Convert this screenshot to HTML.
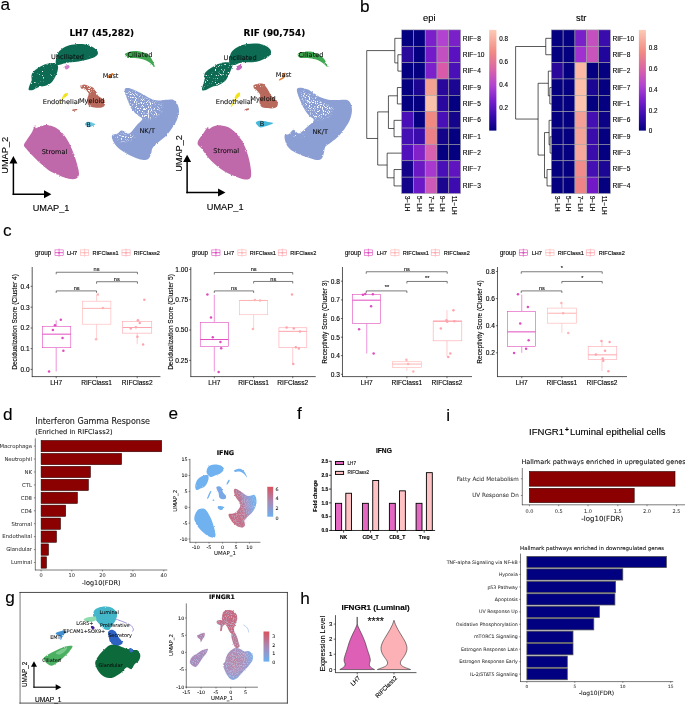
<!DOCTYPE html>
<html lang="en"><head><meta charset="utf-8"><title>Figure</title>
<style>
html,body{margin:0;padding:0;background:#fff;}
svg{display:block;}
text{stroke:#000;stroke-width:0.12px;}
text.d{stroke-width:0.07px;}
text.d[font-weight=bold]{stroke-width:0.12px;}
.l{font-family:"Liberation Sans",Arial,sans-serif;}
.d{font-family:"DejaVu Sans","Liberation Sans",sans-serif;}
</style></head><body>
<svg width="685" height="705" viewBox="0 0 685 705">
<defs>
<filter id="rg" x="-5%" y="-5%" width="110%" height="110%"><feTurbulence type="fractalNoise" baseFrequency="0.9" numOctaves="2" seed="3" result="n"/><feDisplacementMap in="SourceGraphic" in2="n" scale="2.2" xChannelSelector="R" yChannelSelector="G"/></filter>
<filter id="rg2" x="-5%" y="-5%" width="110%" height="110%"><feTurbulence type="fractalNoise" baseFrequency="0.9" numOctaves="2" seed="7" result="n"/><feDisplacementMap in="SourceGraphic" in2="n" scale="2.0" xChannelSelector="R" yChannelSelector="G"/></filter>
<filter id="sp" x="-10%" y="-10%" width="120%" height="120%"><feGaussianBlur in="SourceAlpha" stdDeviation="1.6" result="a"/><feTurbulence type="fractalNoise" baseFrequency="0.85" numOctaves="2" seed="5" result="n"/><feColorMatrix in="n" type="matrix" values="0 0 0 0 1  0 0 0 0 1  0 0 0 0 1  0 0 0 9 -4.9" result="dots"/><feComposite in="dots" in2="a" operator="in"/></filter>
<filter id="sp3" x="-10%" y="-10%" width="120%" height="120%"><feGaussianBlur in="SourceAlpha" stdDeviation="1.2" result="a"/><feTurbulence type="fractalNoise" baseFrequency="0.9" numOctaves="2" seed="17" result="n"/><feColorMatrix in="n" type="matrix" values="0 0 0 0 1  0 0 0 0 1  0 0 0 0 1  0 0 0 9 -6.1" result="dots"/><feComposite in="dots" in2="a" operator="in"/></filter>
<filter id="sp2" x="-10%" y="-10%" width="120%" height="120%"><feGaussianBlur in="SourceAlpha" stdDeviation="1.2" result="a"/><feTurbulence type="fractalNoise" baseFrequency="0.9" numOctaves="2" seed="11" result="n"/><feColorMatrix in="n" type="matrix" values="0 0 0 0 1  0 0 0 0 1  0 0 0 0 1  0 0 0 9 -5.75" result="dots"/><feComposite in="dots" in2="a" operator="in"/></filter>
<filter id="spb" x="-10%" y="-10%" width="120%" height="120%"><feGaussianBlur in="SourceAlpha" stdDeviation="0.8" result="a"/><feTurbulence type="fractalNoise" baseFrequency="0.9" numOctaves="2" seed="21" result="n"/><feColorMatrix in="n" type="matrix" values="0 0 0 0 0.45  0 0 0 0 0.69  0 0 0 0 0.94  0 0 0 4 -1.9" result="dots"/><feComposite in="dots" in2="a" operator="in"/></filter>
<filter id="spr" x="-10%" y="-10%" width="120%" height="120%"><feGaussianBlur in="SourceAlpha" stdDeviation="0.8" result="a"/><feTurbulence type="fractalNoise" baseFrequency="0.9" numOctaves="2" seed="33" result="n"/><feColorMatrix in="n" type="matrix" values="0 0 0 0 0.80  0 0 0 0 0.38  0 0 0 0 0.46  0 0 0 4 -2.0" result="dots"/><feComposite in="dots" in2="a" operator="in"/></filter>
<linearGradient id="hm" x1="0" y1="0" x2="0" y2="1">
<stop offset="0" stop-color="#fdcab5"/><stop offset="0.22" stop-color="#f08a82"/><stop offset="0.40" stop-color="#d862aa"/><stop offset="0.55" stop-color="#b244d2"/><stop offset="0.70" stop-color="#7a1fcc"/><stop offset="0.85" stop-color="#3a0cae"/><stop offset="1" stop-color="#020080"/>
</linearGradient>
<linearGradient id="fb" x1="0" y1="0" x2="0" y2="1"><stop offset="0" stop-color="#d9525c"/><stop offset="0.5" stop-color="#a889b4"/><stop offset="1" stop-color="#6cb0f2"/></linearGradient>
<linearGradient id="nk" x1="0.05" y1="0.62" x2="1" y2="0.32"><stop offset="0" stop-color="#c8667c"/><stop offset="0.42" stop-color="#c0708a"/><stop offset="0.68" stop-color="#9a98cc"/><stop offset="0.9" stop-color="#78aeea"/><stop offset="1" stop-color="#6fb1f0"/></linearGradient>
<radialGradient id="gl" cx="0.35" cy="0.4" r="0.7"><stop offset="0" stop-color="#b9819f"/><stop offset="0.55" stop-color="#a791c0"/><stop offset="0.85" stop-color="#86a6e0"/><stop offset="1" stop-color="#6fb0f0"/></radialGradient>
</defs>
<rect width="685" height="705" fill="#fff"/>

<text class="l" x="0.60" y="9.80" font-size="17.2" style="stroke-width:0.1px">a</text>
<text class="l" x="360.00" y="12.00" font-size="17.2" style="stroke-width:0.1px">b</text>
<text class="l" x="2.90" y="235.60" font-size="17.2" style="stroke-width:0.1px">c</text>
<text class="l" x="3.00" y="420.00" font-size="17.2" style="stroke-width:0.1px">d</text>
<text class="l" x="168.40" y="419.20" font-size="17.2" style="stroke-width:0.1px">e</text>
<text class="l" x="296.90" y="419.20" font-size="17.2" style="stroke-width:0.1px">f</text>
<text class="l" x="5.30" y="602.90" font-size="17.2" style="stroke-width:0.1px">g</text>
<text class="l" x="300.20" y="604.00" font-size="17.2" style="stroke-width:0.1px">h</text>
<text class="l" x="446.20" y="420.70" font-size="17.2" style="stroke-width:0.1px">i</text>
<g filter="url(#rg)">
<path d="M55.8,63.6 C55.4,62.3 55.9,59.0 56.5,56.9 C57.1,54.8 58.0,52.8 59.4,51.1 C60.9,49.4 62.8,47.8 65.3,46.7 C67.7,45.6 70.9,44.9 74.0,44.5 C77.2,44.1 81.1,43.9 84.2,44.3 C87.4,44.8 90.8,46.1 93.0,47.3 C95.2,48.4 96.6,49.8 97.4,51.1 C98.1,52.3 98.2,53.6 97.5,54.7 C96.8,55.8 95.0,56.9 93.0,57.8 C91.0,58.6 88.1,59.4 85.7,60.0 C83.3,60.6 80.8,61.1 78.4,61.4 C76.0,61.8 73.5,61.8 71.1,62.2 C68.7,62.5 65.9,63.1 63.8,63.6 C61.7,64.1 60.0,65.1 58.7,65.1 C57.3,65.1 56.1,65.0 55.8,63.6Z" fill="#0d6b52"/>
<path d="M28.8,89.9 C28.2,89.1 29.0,87.0 29.5,85.4 C30.0,83.8 31.3,82.1 31.7,80.3 C32.0,78.4 30.9,76.2 31.7,74.4 C32.4,72.6 34.1,70.9 36.1,69.3 C38.0,67.7 40.9,65.9 43.4,64.9 C45.8,63.9 48.6,63.6 50.7,63.3 C52.7,63.1 54.7,62.8 55.9,63.3 C57.2,63.8 57.9,65.0 58.1,66.4 C58.3,67.7 57.9,69.7 57.4,71.5 C56.9,73.3 56.0,75.5 55.0,77.3 C54.0,79.2 52.8,81.2 51.4,82.6 C49.9,84.0 48.3,84.8 46.3,85.5 C44.2,86.2 41.2,86.2 39.0,87.0 C36.8,87.7 34.8,89.4 33.1,89.9 C31.4,90.4 29.4,90.6 28.8,89.9Z" fill="#0d6b52"/>
<path d="M64.5,66.4 C64.8,65.6 67.3,64.8 68.2,64.9 C69.0,65.0 69.9,66.4 69.6,67.1 C69.3,67.9 67.3,69.6 66.4,69.5 C65.6,69.3 64.2,67.1 64.5,66.4Z" fill="#cf7fcc"/>
<path d="M80.6,86.1 C81.1,85.5 82.9,84.6 84.2,84.6 C85.6,84.6 87.2,85.6 88.6,86.1 C90.1,86.6 91.8,86.6 93.0,87.6 C94.2,88.5 94.9,90.5 95.9,91.9 C96.9,93.4 97.5,95.0 98.8,96.3 C100.2,97.7 102.9,98.5 103.9,100.0 C104.9,101.4 105.2,103.8 104.8,105.1 C104.5,106.3 103.5,107.0 101.8,107.4 C100.0,107.8 96.6,107.8 94.5,107.4 C92.3,107.0 89.8,106.6 88.6,105.2 C87.4,103.9 87.2,101.2 87.2,99.2 C87.2,97.3 89.1,95.0 88.6,93.4 C88.1,91.7 85.5,90.1 84.2,89.3 C83.0,88.5 81.9,89.0 81.3,88.4 C80.7,87.9 80.1,86.7 80.6,86.1Z" fill="#b9695c"/>
<path d="M72.3,109.7 C72.8,109.4 75.8,108.8 76.6,108.9 C77.5,108.9 77.8,109.7 77.2,110.0 C76.6,110.4 74.0,111.0 73.1,110.9 C72.3,110.9 71.7,110.1 72.3,109.7Z" fill="#b9695c"/>
<path d="M63.5,94.9 C64.5,93.5 66.3,92.5 67.0,92.5 C67.7,92.5 68.2,93.9 67.7,94.9 C67.3,95.8 65.3,96.7 64.1,98.1 C62.8,99.4 61.2,102.0 60.3,103.0 C59.4,104.1 58.4,104.9 58.5,104.5 C58.6,104.1 60.0,102.3 60.9,100.7 C61.7,99.1 62.5,96.2 63.5,94.9Z" fill="#f2e31f"/>
<path d="M107.6,77.3 C107.7,76.6 110.7,73.8 111.7,73.2 C112.7,72.7 113.6,73.4 113.4,74.1 C113.3,74.9 111.8,77.1 110.8,77.6 C109.8,78.2 107.4,78.1 107.6,77.3Z" fill="#e8833a"/>
<path d="M124.8,88.9 C125.3,87.9 126.8,87.9 128.5,88.1 C130.2,88.4 132.7,89.4 135.0,90.3 C137.3,91.3 139.8,92.6 142.3,94.0 C144.9,95.3 147.7,97.3 150.4,98.4 C153.0,99.5 155.8,100.3 158.4,100.5 C160.9,100.8 163.3,99.9 165.7,99.8 C168.1,99.7 171.0,99.1 173.0,99.8 C174.9,100.5 176.4,102.3 177.4,104.2 C178.4,106.1 179.1,108.8 179.0,111.5 C178.9,114.2 178.0,117.3 176.8,120.3 C175.5,123.2 173.4,126.3 171.5,129.0 C169.7,131.7 167.9,134.1 165.7,136.3 C163.5,138.5 160.6,140.2 158.4,142.2 C156.2,144.1 153.8,146.0 152.6,148.0 C151.3,149.9 151.8,152.0 151.1,153.8 C150.4,155.7 149.6,158.1 148.2,159.1 C146.7,160.1 144.8,160.2 142.3,159.8 C139.9,159.5 136.5,158.1 133.6,156.9 C130.7,155.7 127.6,154.2 124.8,152.5 C122.0,150.8 118.9,148.7 116.8,146.5 C114.7,144.3 113.1,141.2 112.4,139.2 C111.7,137.3 111.6,135.8 112.4,134.9 C113.3,133.9 115.9,134.1 117.5,133.4 C119.1,132.7 120.0,130.5 121.9,130.5 C123.8,130.5 126.8,134.2 129.2,133.4 C131.6,132.5 134.3,127.8 136.5,125.4 C138.7,122.9 142.3,120.6 142.3,118.8 C142.3,117.0 138.3,116.1 136.5,114.4 C134.7,112.7 132.8,110.9 131.4,108.6 C129.9,106.3 128.7,103.0 127.7,100.5 C126.8,98.1 126.0,95.9 125.5,94.0 C125.1,92.0 124.3,89.8 124.8,88.9Z" fill="#8b9fd4"/>
<path d="M124.9,54.2 C125.2,53.2 127.1,52.4 129.0,51.9 C131.0,51.4 134.0,50.9 136.7,51.1 C139.4,51.3 142.7,51.9 145.1,53.1 C147.5,54.3 149.6,55.9 151.2,58.2 C152.9,60.5 154.9,66.1 154.8,66.9 C154.7,67.8 152.6,64.6 150.7,63.4 C148.9,62.1 146.2,60.4 143.6,59.5 C140.9,58.6 137.6,58.3 134.9,58.0 C132.2,57.7 128.9,58.4 127.2,57.7 C125.6,57.1 124.6,55.1 124.9,54.2Z" fill="#3fa851"/>
<path d="M35.0,125.3 C35.7,124.7 34.9,128.1 35.9,128.2 C36.9,128.4 38.8,126.6 40.9,126.1 C42.9,125.5 45.7,124.9 48.2,125.2 C50.6,125.4 53.0,126.2 55.5,127.5 C57.9,128.9 60.6,130.9 62.8,133.4 C65.0,135.8 66.8,138.7 68.6,142.1 C70.4,145.5 72.3,149.9 73.7,153.8 C75.2,157.7 76.5,162.1 77.4,165.5 C78.2,168.9 79.2,172.0 79.0,174.2 C78.7,176.4 77.6,178.0 75.9,178.8 C74.2,179.5 71.5,179.4 68.6,178.8 C65.7,178.2 61.8,176.6 58.4,175.1 C55.0,173.6 51.3,171.9 48.2,169.9 C45.0,167.8 42.1,165.0 39.4,162.6 C36.7,160.1 34.3,157.6 32.1,155.3 C29.9,152.9 27.6,150.4 26.3,148.7 C24.9,147.0 23.7,146.7 23.9,145.0 C24.2,143.3 26.4,140.7 27.7,138.5 C29.1,136.3 30.9,134.1 32.1,131.9 C33.3,129.7 34.4,125.9 35.0,125.3Z" fill="#c069aa"/>
<path d="M85.0,123.4 C85.3,122.7 86.5,121.9 87.6,121.7 C88.7,121.5 90.1,121.8 91.4,122.3 C92.7,122.7 94.9,123.7 95.2,124.3 C95.4,124.9 94.0,125.6 92.8,126.1 C91.7,126.5 89.6,127.3 88.5,127.2 C87.3,127.2 86.4,126.4 85.8,125.8 C85.3,125.1 84.7,124.1 85.0,123.4Z" fill="#6cc8e2"/>
<path d="M229.4,62.9 C228.7,61.5 229.2,58.9 229.7,56.9 C230.2,54.9 230.9,52.8 232.3,51.1 C233.7,49.4 235.7,47.8 238.2,46.7 C240.6,45.5 243.8,44.6 246.9,44.1 C250.1,43.5 254.0,43.3 257.2,43.6 C260.3,43.9 263.7,45.0 265.9,45.9 C268.1,46.9 269.5,48.3 270.3,49.6 C271.1,50.9 271.3,52.6 270.7,54.0 C270.1,55.3 268.4,56.7 266.6,57.8 C264.9,58.9 262.4,60.0 260.1,60.7 C257.8,61.4 255.2,61.9 252.8,62.2 C250.3,62.4 247.7,62.0 245.5,62.2 C243.3,62.3 241.6,62.4 239.6,62.9 C237.7,63.4 235.5,65.1 233.8,65.1 C232.1,65.1 230.1,64.2 229.4,62.9Z" fill="#0d6b52"/>
<path d="M202.0,89.9 C201.5,89.0 202.7,86.5 203.1,84.6 C203.6,82.8 204.4,80.6 204.6,78.8 C204.8,77.0 203.9,75.3 204.6,73.7 C205.3,72.1 207.0,70.8 209.0,69.3 C210.9,67.8 213.8,66.0 216.3,64.9 C218.7,63.8 221.4,63.0 223.6,62.6 C225.8,62.2 227.9,62.2 229.4,62.6 C230.9,63.0 232.2,63.7 232.5,64.9 C232.7,66.2 231.6,68.2 230.9,70.0 C230.2,71.9 229.2,74.0 228.2,75.9 C227.3,77.7 226.5,79.6 225.0,81.1 C223.5,82.6 221.4,83.8 219.2,84.8 C217.0,85.8 214.1,86.1 211.9,87.0 C209.7,87.8 207.7,89.4 206.1,89.9 C204.4,90.4 202.5,90.8 202.0,89.9Z" fill="#0d6b52"/>
<path d="M236.4,66.5 C237.2,65.6 241.4,64.4 242.3,64.8 C243.1,65.1 242.2,67.7 241.4,68.6 C240.6,69.5 238.4,70.7 237.6,70.3 C236.8,70.0 235.6,67.5 236.4,66.5Z" fill="#c468c0"/>
<path d="M253.5,85.4 C254.0,84.6 255.6,84.2 257.2,83.9 C258.7,83.6 261.5,83.3 263.0,83.8 C264.5,84.2 264.9,85.6 265.9,86.8 C266.9,88.1 267.9,89.6 268.8,91.2 C269.8,92.8 270.4,94.7 271.8,96.3 C273.1,97.9 275.9,99.2 276.9,100.7 C277.9,102.2 278.1,103.8 277.7,105.1 C277.4,106.3 276.4,107.6 274.7,108.1 C272.9,108.6 269.6,108.4 267.4,108.1 C265.2,107.9 262.9,107.8 261.5,106.7 C260.2,105.6 259.6,103.4 259.3,101.4 C259.1,99.5 260.6,96.8 260.1,94.9 C259.6,92.9 257.4,91.0 256.4,89.9 C255.5,88.8 254.7,89.2 254.2,88.4 C253.7,87.7 253.0,86.1 253.5,85.4Z" fill="#b9695c"/>
<path d="M244.6,109.7 C245.0,109.3 247.4,108.3 248.1,108.3 C248.8,108.2 249.4,109.0 249.0,109.5 C248.5,109.9 246.2,110.9 245.5,110.9 C244.7,111.0 244.2,110.2 244.6,109.7Z" fill="#b9695c"/>
<path d="M236.4,94.3 C237.5,92.8 239.1,92.3 239.6,92.5 C240.2,92.8 240.5,94.6 239.9,95.7 C239.3,96.9 237.3,97.9 236.1,99.5 C234.9,101.1 233.5,104.1 232.6,105.4 C231.7,106.6 230.7,107.5 230.7,106.8 C230.8,106.2 232.1,103.5 233.1,101.4 C234.0,99.3 235.3,95.8 236.4,94.3Z" fill="#f2e31f"/>
<path d="M282.3,73.8 C282.8,73.2 285.4,72.3 285.8,73.0 C286.2,73.6 285.6,76.4 284.6,77.6 C283.6,78.9 280.9,80.3 279.9,80.5 C279.0,80.8 278.6,80.0 279.1,79.4 C279.5,78.8 282.0,78.0 282.6,77.0 C283.1,76.1 281.7,74.5 282.3,73.8Z" fill="#e8833a"/>
<path d="M297.0,88.9 C297.6,87.8 299.6,87.7 301.4,87.8 C303.2,88.0 305.9,88.7 308.0,89.6 C310.0,90.5 311.6,91.9 313.8,93.2 C316.0,94.6 318.7,96.5 321.1,97.6 C323.5,98.7 326.0,99.4 328.4,99.8 C330.8,100.2 333.3,100.1 335.7,100.1 C338.1,100.1 340.9,99.7 343.0,99.8 C345.1,99.9 346.7,99.7 348.1,100.5 C349.5,101.4 350.5,103.1 351.2,104.9 C351.8,106.8 352.1,108.9 351.9,111.5 C351.7,114.1 350.9,117.3 349.7,120.3 C348.5,123.2 346.3,126.3 344.5,129.0 C342.6,131.7 340.8,134.1 338.6,136.3 C336.4,138.5 333.5,140.5 331.3,142.2 C329.1,143.9 326.7,144.8 325.5,146.5 C324.3,148.2 324.6,150.4 324.0,152.4 C323.4,154.3 323.0,157.1 321.8,158.4 C320.6,159.6 319.0,160.2 316.7,160.1 C314.4,160.0 311.0,158.6 308.0,157.6 C304.9,156.6 301.4,155.3 298.5,154.0 C295.5,152.6 292.5,151.2 290.4,149.5 C288.4,147.7 287.0,145.9 286.1,143.6 C285.1,141.3 284.1,137.2 284.6,135.6 C285.1,134.0 287.5,135.1 289.0,134.1 C290.4,133.2 291.7,129.9 293.4,129.7 C295.1,129.6 297.0,133.8 299.2,133.4 C301.4,133.0 304.1,129.7 306.5,127.6 C308.9,125.4 313.6,122.4 313.8,120.3 C314.0,118.1 309.7,116.5 308.0,114.4 C306.3,112.3 304.9,110.3 303.6,107.8 C302.2,105.4 300.9,102.1 299.9,99.8 C299.0,97.5 298.2,95.8 297.7,94.0 C297.3,92.2 296.4,89.9 297.0,88.9Z" fill="#8b9fd4"/>
<path d="M297.7,54.2 C298.1,53.2 299.8,52.5 301.8,52.1 C303.9,51.7 307.3,51.3 310.0,51.6 C312.7,51.9 315.8,52.9 318.2,54.2 C320.6,55.4 322.7,57.1 324.3,59.3 C325.9,61.4 327.8,66.3 327.6,66.9 C327.5,67.6 325.2,64.6 323.3,63.4 C321.4,62.1 318.8,60.4 316.1,59.5 C313.5,58.6 310.2,58.3 307.4,58.0 C304.7,57.7 301.4,58.4 299.8,57.7 C298.2,57.1 297.4,55.1 297.7,54.2Z" fill="#3fa851"/>
<path d="M207.8,126.9 C208.7,126.1 207.9,129.0 208.8,128.9 C209.8,128.8 211.6,126.9 213.4,126.4 C215.3,125.8 217.1,124.9 220.1,125.3 C223.1,125.8 227.7,126.4 231.3,128.9 C234.9,131.4 238.7,135.6 241.5,140.1 C244.3,144.7 246.6,150.4 248.2,156.0 C249.8,161.6 251.3,170.0 251.2,173.9 C251.2,177.8 250.0,178.9 247.7,179.5 C245.4,180.0 241.4,178.6 237.4,177.2 C233.5,175.8 228.5,174.0 224.2,171.3 C219.8,168.6 215.1,164.8 211.4,161.1 C207.6,157.3 204.0,151.9 201.7,148.8 C199.4,145.8 197.3,145.3 197.6,142.7 C197.8,140.1 201.5,136.1 203.2,133.5 C204.9,130.9 206.9,127.6 207.8,126.9Z" fill="#c069aa"/>
<path d="M255.8,122.3 C256.4,121.4 258.6,120.7 260.9,120.7 C263.3,120.7 268.1,121.8 270.1,122.3 C272.2,122.7 273.7,122.7 273.2,123.3 C272.7,123.9 269.1,125.2 267.1,125.8 C265.0,126.5 262.5,127.4 260.9,127.4 C259.4,127.4 258.7,126.7 257.9,125.8 C257.0,125.0 255.3,123.1 255.8,122.3Z" fill="#45b9db"/>
</g>
<path d="M127.0,91.1 C128.1,89.5 133.0,91.8 136.5,93.2 C140.0,94.7 144.0,97.9 148.2,99.8 C152.3,101.8 159.6,102.5 161.3,104.9 C163.0,107.4 160.6,112.1 158.4,114.4 C156.2,116.7 151.1,118.3 148.2,118.8 C145.3,119.3 143.1,118.7 140.9,117.3 C138.7,116.0 136.9,113.2 135.0,110.8 C133.2,108.3 131.3,106.0 129.9,102.7 C128.6,99.5 125.9,92.6 127.0,91.1Z" fill="#fff" filter="url(#sp)"/>
<path d="M116.1,135.6 C117.0,134.4 121.8,133.3 124.8,133.4 C127.9,133.5 133.8,135.1 134.3,136.3 C134.8,137.5 130.3,140.0 127.7,140.7 C125.2,141.4 120.9,141.5 119.0,140.7 C117.0,139.8 115.1,136.8 116.1,135.6Z" fill="#fff" filter="url(#sp)"/>
<path d="M301.4,91.8 C302.7,90.3 308.6,93.6 312.3,95.4 C316.1,97.3 320.6,100.5 324.0,102.7 C327.4,104.9 332.0,106.4 332.8,108.6 C333.5,110.8 331.1,114.2 328.4,115.9 C325.7,117.6 319.9,119.3 316.7,118.8 C313.6,118.3 311.5,115.4 309.4,113.0 C307.3,110.5 305.6,107.7 304.3,104.2 C303.0,100.7 300.0,93.2 301.4,91.8Z" fill="#fff" filter="url(#sp)"/>
<path d="M291.9,133.4 C292.1,132.5 297.0,132.3 299.2,132.7 C301.4,133.0 305.3,134.7 305.0,135.6 C304.8,136.4 299.9,138.1 297.7,137.8 C295.5,137.4 291.7,134.2 291.9,133.4Z" fill="#fff" filter="url(#sp2)"/>
<path d="M30.2,87.6 C29.6,85.5 30.5,79.4 32.4,75.9 C34.4,72.3 37.9,68.3 41.9,66.4 C45.9,64.4 54.1,62.9 56.5,64.2 C58.9,65.5 57.7,71.1 56.5,74.4 C55.3,77.7 52.6,81.6 49.2,83.9 C45.8,86.2 39.2,87.7 36.1,88.3 C32.9,88.9 30.8,89.6 30.2,87.6Z" fill="#fff" filter="url(#sp3)"/>
<path d="M79.9,85.4 C80.1,84.3 83.5,83.4 85.7,83.9 C87.9,84.4 92.3,86.7 93.0,88.3 C93.7,89.9 91.5,93.0 90.1,93.4 C88.6,93.8 85.9,91.8 84.2,90.5 C82.5,89.1 79.6,86.5 79.9,85.4Z" fill="#fff" filter="url(#sp)"/>
<path d="M63.8,58.4 C65.5,57.7 74.0,59.8 78.4,59.5 C82.8,59.3 88.6,56.6 90.1,56.9 C91.5,57.2 90.8,60.2 87.2,61.3 C83.5,62.4 72.1,64.0 68.2,63.5 C64.3,63.0 62.1,59.0 63.8,58.4Z" fill="#fff" filter="url(#sp3)"/>
<path d="M203.1,88.3 C202.5,86.1 203.4,78.8 205.3,75.1 C207.3,71.5 210.7,68.3 214.8,66.4 C219.0,64.4 227.6,62.3 230.1,63.5 C232.7,64.7 231.4,70.4 230.1,73.7 C228.9,77.0 226.4,80.7 222.8,83.2 C219.3,85.6 212.3,87.4 209.0,88.3 C205.7,89.1 203.7,90.5 203.1,88.3Z" fill="#fff" filter="url(#sp2)"/>
<path d="M252.8,85.4 C253.3,84.4 256.9,83.5 258.6,83.9 C260.3,84.3 262.7,86.2 263.0,87.6 C263.2,88.9 261.3,91.6 260.1,91.9 C258.9,92.3 256.9,90.8 255.7,89.7 C254.5,88.6 252.3,86.3 252.8,85.4Z" fill="#fff" filter="url(#sp2)"/>
<text class="d" x="67.40" y="56.90" font-size="6.6" text-anchor="middle" fill="#111" stroke="#111" dy="0.35em">Unciliated</text>
<text class="d" x="140.00" y="54.80" font-size="6.6" text-anchor="middle" fill="#111" stroke="#111" dy="0.35em">Ciliated</text>
<text class="d" x="110.60" y="75.60" font-size="6.6" text-anchor="middle" fill="#111" stroke="#111" dy="0.35em">Mast</text>
<text class="d" x="61.20" y="101.50" font-size="6.6" text-anchor="middle" fill="#111" stroke="#111" dy="0.35em">Endothelial</text>
<text class="d" x="91.70" y="101.00" font-size="6.6" text-anchor="middle" fill="#111" stroke="#111" dy="0.35em">Myeloid</text>
<text class="d" x="88.60" y="124.40" font-size="6.6" text-anchor="middle" fill="#111" stroke="#111" dy="0.35em">B</text>
<text class="d" x="147.20" y="130.50" font-size="6.6" text-anchor="middle" fill="#111" stroke="#111" dy="0.35em">NK/T</text>
<text class="d" x="54.50" y="151.90" font-size="6.6" text-anchor="middle" fill="#111" stroke="#111" dy="0.35em">Stromal</text>
<text class="d" x="240.10" y="57.20" font-size="6.6" text-anchor="middle" fill="#111" stroke="#111" dy="0.35em">Unciliated</text>
<text class="d" x="311.00" y="54.20" font-size="6.6" text-anchor="middle" fill="#111" stroke="#111" dy="0.35em">Ciliated</text>
<text class="d" x="283.60" y="74.80" font-size="6.6" text-anchor="middle" fill="#111" stroke="#111" dy="0.35em">Mast</text>
<text class="d" x="234.20" y="101.90" font-size="6.6" text-anchor="middle" fill="#111" stroke="#111" dy="0.35em">Endothelial</text>
<text class="d" x="263.00" y="98.20" font-size="6.6" text-anchor="middle" fill="#111" stroke="#111" dy="0.35em">Myeloid</text>
<text class="d" x="262.00" y="124.00" font-size="6.6" text-anchor="middle" fill="#111" stroke="#111" dy="0.35em">B</text>
<text class="d" x="320.20" y="131.50" font-size="6.6" text-anchor="middle" fill="#111" stroke="#111" dy="0.35em">NK/T</text>
<text class="d" x="226.20" y="150.60" font-size="6.6" text-anchor="middle" fill="#111" stroke="#111" dy="0.35em">Stromal</text>
<text class="d" x="101.80" y="33.00" font-size="8.9" text-anchor="middle" font-weight="bold" dy="0.35em">LH7 (45,282)</text>
<text class="d" x="274.40" y="33.00" font-size="8.9" text-anchor="middle" font-weight="bold" dy="0.35em">RIF (90,754)</text>
<line x1="13.40" y1="195.05" x2="13.40" y2="162.40" stroke="#000" stroke-width="1.5"/>
<line x1="12.65" y1="194.30" x2="45.00" y2="194.30" stroke="#000" stroke-width="1.5"/>
<path d="M9.40,163.40 L13.40,156.00 L17.40,163.40Z"/>
<path d="M44.00,190.30 L51.40,194.30 L44.00,198.30Z"/>
<line x1="187.12" y1="193.27" x2="187.12" y2="161.11" stroke="#000" stroke-width="1.5"/>
<line x1="186.37" y1="192.52" x2="219.04" y2="192.52" stroke="#000" stroke-width="1.5"/>
<path d="M183.12,162.11 L187.12,154.71 L191.12,162.11Z"/>
<path d="M218.04,188.52 L225.44,192.52 L218.04,196.52Z"/>
<text class="l" x="4.90" y="155.30" font-size="9.2" text-anchor="middle" transform="rotate(-90 4.90 155.30)" dy="0.35em">UMAP_2</text>
<text class="l" x="178.94" y="153.43" font-size="9.2" text-anchor="middle" transform="rotate(-90 178.94 153.43)" dy="0.35em">UMAP_2</text>
<text class="l" x="51.09" y="207.85" font-size="9.2" text-anchor="middle" dy="0.35em">UMAP_1</text>
<text class="l" x="225.18" y="206.57" font-size="9.2" text-anchor="middle" dy="0.35em">UMAP_1</text>
<rect x="401.60" y="29.90" width="11.80" height="16.36" fill="#050080" stroke="#a3a3a3" stroke-width="0.55"/>
<rect x="413.40" y="29.90" width="11.80" height="16.36" fill="#050080" stroke="#a3a3a3" stroke-width="0.55"/>
<rect x="425.20" y="29.90" width="11.80" height="16.36" fill="#7a1fca" stroke="#a3a3a3" stroke-width="0.55"/>
<rect x="437.00" y="29.90" width="11.80" height="16.36" fill="#b243d0" stroke="#a3a3a3" stroke-width="0.55"/>
<rect x="448.80" y="29.90" width="11.80" height="16.36" fill="#7a20c8" stroke="#a3a3a3" stroke-width="0.55"/>
<text class="l" x="462.70" y="38.28" font-size="6.6" dy="0.35em">RIF−8</text>
<rect x="401.60" y="46.26" width="11.80" height="16.36" fill="#2a0a9a" stroke="#a3a3a3" stroke-width="0.55"/>
<rect x="413.40" y="46.26" width="11.80" height="16.36" fill="#050080" stroke="#a3a3a3" stroke-width="0.55"/>
<rect x="425.20" y="46.26" width="11.80" height="16.36" fill="#741aca" stroke="#a3a3a3" stroke-width="0.55"/>
<rect x="437.00" y="46.26" width="11.80" height="16.36" fill="#c250c0" stroke="#a3a3a3" stroke-width="0.55"/>
<rect x="448.80" y="46.26" width="11.80" height="16.36" fill="#5a12c0" stroke="#a3a3a3" stroke-width="0.55"/>
<text class="l" x="462.70" y="54.64" font-size="6.6" dy="0.35em">RIF−10</text>
<rect x="401.60" y="62.62" width="11.80" height="16.36" fill="#050080" stroke="#a3a3a3" stroke-width="0.55"/>
<rect x="413.40" y="62.62" width="11.80" height="16.36" fill="#050080" stroke="#a3a3a3" stroke-width="0.55"/>
<rect x="425.20" y="62.62" width="11.80" height="16.36" fill="#7c20cc" stroke="#a3a3a3" stroke-width="0.55"/>
<rect x="437.00" y="62.62" width="11.80" height="16.36" fill="#d95aa8" stroke="#a3a3a3" stroke-width="0.55"/>
<rect x="448.80" y="62.62" width="11.80" height="16.36" fill="#4a10b8" stroke="#a3a3a3" stroke-width="0.55"/>
<text class="l" x="462.70" y="71.00" font-size="6.6" dy="0.35em">RIF−4</text>
<rect x="401.60" y="78.98" width="11.80" height="16.36" fill="#050080" stroke="#a3a3a3" stroke-width="0.55"/>
<rect x="413.40" y="78.98" width="11.80" height="16.36" fill="#1c0692" stroke="#a3a3a3" stroke-width="0.55"/>
<rect x="425.20" y="78.98" width="11.80" height="16.36" fill="#f5a192" stroke="#a3a3a3" stroke-width="0.55"/>
<rect x="437.00" y="78.98" width="11.80" height="16.36" fill="#2a089c" stroke="#a3a3a3" stroke-width="0.55"/>
<rect x="448.80" y="78.98" width="11.80" height="16.36" fill="#1a0690" stroke="#a3a3a3" stroke-width="0.55"/>
<text class="l" x="462.70" y="87.36" font-size="6.6" dy="0.35em">RIF−9</text>
<rect x="401.60" y="95.34" width="11.80" height="16.36" fill="#050080" stroke="#a3a3a3" stroke-width="0.55"/>
<rect x="413.40" y="95.34" width="11.80" height="16.36" fill="#050080" stroke="#a3a3a3" stroke-width="0.55"/>
<rect x="425.20" y="95.34" width="11.80" height="16.36" fill="#fcc1aa" stroke="#a3a3a3" stroke-width="0.55"/>
<rect x="437.00" y="95.34" width="11.80" height="16.36" fill="#2a08a0" stroke="#a3a3a3" stroke-width="0.55"/>
<rect x="448.80" y="95.34" width="11.80" height="16.36" fill="#050080" stroke="#a3a3a3" stroke-width="0.55"/>
<text class="l" x="462.70" y="103.72" font-size="6.6" dy="0.35em">RIF−5</text>
<rect x="401.60" y="111.70" width="11.80" height="16.36" fill="#4a10b8" stroke="#a3a3a3" stroke-width="0.55"/>
<rect x="413.40" y="111.70" width="11.80" height="16.36" fill="#050080" stroke="#a3a3a3" stroke-width="0.55"/>
<rect x="425.20" y="111.70" width="11.80" height="16.36" fill="#f08982" stroke="#a3a3a3" stroke-width="0.55"/>
<rect x="437.00" y="111.70" width="11.80" height="16.36" fill="#4a10b8" stroke="#a3a3a3" stroke-width="0.55"/>
<rect x="448.80" y="111.70" width="11.80" height="16.36" fill="#14048a" stroke="#a3a3a3" stroke-width="0.55"/>
<text class="l" x="462.70" y="120.08" font-size="6.6" dy="0.35em">RIF−6</text>
<rect x="401.60" y="128.06" width="11.80" height="16.36" fill="#4410b4" stroke="#a3a3a3" stroke-width="0.55"/>
<rect x="413.40" y="128.06" width="11.80" height="16.36" fill="#3a0cac" stroke="#a3a3a3" stroke-width="0.55"/>
<rect x="425.20" y="128.06" width="11.80" height="16.36" fill="#ec8088" stroke="#a3a3a3" stroke-width="0.55"/>
<rect x="437.00" y="128.06" width="11.80" height="16.36" fill="#14048a" stroke="#a3a3a3" stroke-width="0.55"/>
<rect x="448.80" y="128.06" width="11.80" height="16.36" fill="#050080" stroke="#a3a3a3" stroke-width="0.55"/>
<text class="l" x="462.70" y="136.44" font-size="6.6" dy="0.35em">RIF−1</text>
<rect x="401.60" y="144.42" width="11.80" height="16.36" fill="#5010bc" stroke="#a3a3a3" stroke-width="0.55"/>
<rect x="413.40" y="144.42" width="11.80" height="16.36" fill="#8222c8" stroke="#a3a3a3" stroke-width="0.55"/>
<rect x="425.20" y="144.42" width="11.80" height="16.36" fill="#d860b0" stroke="#a3a3a3" stroke-width="0.55"/>
<rect x="437.00" y="144.42" width="11.80" height="16.36" fill="#050080" stroke="#a3a3a3" stroke-width="0.55"/>
<rect x="448.80" y="144.42" width="11.80" height="16.36" fill="#050080" stroke="#a3a3a3" stroke-width="0.55"/>
<text class="l" x="462.70" y="152.80" font-size="6.6" dy="0.35em">RIF−2</text>
<rect x="401.60" y="160.78" width="11.80" height="16.36" fill="#14048a" stroke="#a3a3a3" stroke-width="0.55"/>
<rect x="413.40" y="160.78" width="11.80" height="16.36" fill="#6a18c4" stroke="#a3a3a3" stroke-width="0.55"/>
<rect x="425.20" y="160.78" width="11.80" height="16.36" fill="#a838d0" stroke="#a3a3a3" stroke-width="0.55"/>
<rect x="437.00" y="160.78" width="11.80" height="16.36" fill="#4a10b8" stroke="#a3a3a3" stroke-width="0.55"/>
<rect x="448.80" y="160.78" width="11.80" height="16.36" fill="#6014c0" stroke="#a3a3a3" stroke-width="0.55"/>
<text class="l" x="462.70" y="169.16" font-size="6.6" dy="0.35em">RIF−7</text>
<rect x="401.60" y="177.14" width="11.80" height="16.36" fill="#14048a" stroke="#a3a3a3" stroke-width="0.55"/>
<rect x="413.40" y="177.14" width="11.80" height="16.36" fill="#6a18c8" stroke="#a3a3a3" stroke-width="0.55"/>
<rect x="425.20" y="177.14" width="11.80" height="16.36" fill="#cc58b8" stroke="#a3a3a3" stroke-width="0.55"/>
<rect x="437.00" y="177.14" width="11.80" height="16.36" fill="#1c0690" stroke="#a3a3a3" stroke-width="0.55"/>
<rect x="448.80" y="177.14" width="11.80" height="16.36" fill="#3c0cb0" stroke="#a3a3a3" stroke-width="0.55"/>
<text class="l" x="462.70" y="185.52" font-size="6.6" dy="0.35em">RIF−3</text>
<text class="l" x="407.20" y="195.70" font-size="6.6" transform="rotate(90 407.20 195.70)" dy="0.35em">3−LH</text>
<text class="l" x="419.00" y="195.70" font-size="6.6" transform="rotate(90 419.00 195.70)" dy="0.35em">5−LH</text>
<text class="l" x="430.80" y="195.70" font-size="6.6" transform="rotate(90 430.80 195.70)" dy="0.35em">7−LH</text>
<text class="l" x="442.60" y="195.70" font-size="6.6" transform="rotate(90 442.60 195.70)" dy="0.35em">9−LH</text>
<text class="l" x="454.40" y="195.70" font-size="6.6" transform="rotate(90 454.40 195.70)" dy="0.35em">11−LH</text>
<rect x="489.20" y="29.90" width="7.20" height="100.70" fill="url(#hm)" stroke="none" stroke-width="0.5"/>
<text class="l" x="499.20" y="38.40" font-size="6.3" dy="0.35em">0.8</text>
<text class="l" x="499.20" y="61.60" font-size="6.3" dy="0.35em">0.6</text>
<text class="l" x="499.20" y="84.90" font-size="6.3" dy="0.35em">0.4</text>
<text class="l" x="499.20" y="108.10" font-size="6.3" dy="0.35em">0.2</text>
<text class="l" x="429.30" y="17.45" font-size="9.4" text-anchor="middle" dy="0.35em">epi</text>
<path d="M397.88,54.72L397.88,71.12M397.88,54.72L401.72,54.72M397.88,71.12L401.72,71.12M394.82,38.32L394.82,62.92M394.82,38.32L401.72,38.32M394.82,62.92L397.88,62.92M366.72,50.58L394.82,50.58M397.37,87.53L397.37,103.93M397.37,87.53L401.72,87.53M397.37,103.93L401.72,103.93M388.43,95.80L397.37,95.80M394.05,120.33L394.05,136.73M394.05,120.33L401.72,120.33M394.05,136.73L401.72,136.73M388.43,128.50L394.05,128.50M388.43,95.80L388.43,128.50M377.70,111.90L388.43,111.90M394.05,169.53L394.05,185.93M394.05,169.53L401.72,169.53M394.05,185.93L401.72,185.93M387.15,177.81L394.05,177.81M387.15,153.13L387.15,177.81M387.15,153.13L401.72,153.13M377.70,165.04L387.15,165.04M377.70,111.90L377.70,165.04M366.72,138.47L377.70,138.47M366.72,50.58L366.72,138.47" fill="none" stroke="#000" stroke-width="0.65"/>
<rect x="551.30" y="29.90" width="11.82" height="16.36" fill="#050080" stroke="#a3a3a3" stroke-width="0.55"/>
<rect x="563.12" y="29.90" width="11.82" height="16.36" fill="#050080" stroke="#a3a3a3" stroke-width="0.55"/>
<rect x="574.94" y="29.90" width="11.82" height="16.36" fill="#7a20c8" stroke="#a3a3a3" stroke-width="0.55"/>
<rect x="586.76" y="29.90" width="11.82" height="16.36" fill="#c450c0" stroke="#a3a3a3" stroke-width="0.55"/>
<rect x="598.58" y="29.90" width="11.82" height="16.36" fill="#3a0cac" stroke="#a3a3a3" stroke-width="0.55"/>
<text class="l" x="612.40" y="38.28" font-size="6.6" dy="0.35em">RIF−10</text>
<rect x="551.30" y="46.26" width="11.82" height="16.36" fill="#050080" stroke="#a3a3a3" stroke-width="0.55"/>
<rect x="563.12" y="46.26" width="11.82" height="16.36" fill="#050080" stroke="#a3a3a3" stroke-width="0.55"/>
<rect x="574.94" y="46.26" width="11.82" height="16.36" fill="#a030d0" stroke="#a3a3a3" stroke-width="0.55"/>
<rect x="586.76" y="46.26" width="11.82" height="16.36" fill="#c854bc" stroke="#a3a3a3" stroke-width="0.55"/>
<rect x="598.58" y="46.26" width="11.82" height="16.36" fill="#20069a" stroke="#a3a3a3" stroke-width="0.55"/>
<text class="l" x="612.40" y="54.64" font-size="6.6" dy="0.35em">RIF−8</text>
<rect x="551.30" y="62.62" width="11.82" height="16.36" fill="#2a089c" stroke="#a3a3a3" stroke-width="0.55"/>
<rect x="563.12" y="62.62" width="11.82" height="16.36" fill="#050080" stroke="#a3a3a3" stroke-width="0.55"/>
<rect x="574.94" y="62.62" width="11.82" height="16.36" fill="#fbb8a4" stroke="#a3a3a3" stroke-width="0.55"/>
<rect x="586.76" y="62.62" width="11.82" height="16.36" fill="#050080" stroke="#a3a3a3" stroke-width="0.55"/>
<rect x="598.58" y="62.62" width="11.82" height="16.36" fill="#050080" stroke="#a3a3a3" stroke-width="0.55"/>
<text class="l" x="612.40" y="71.00" font-size="6.6" dy="0.35em">RIF−2</text>
<rect x="551.30" y="78.98" width="11.82" height="16.36" fill="#050080" stroke="#a3a3a3" stroke-width="0.55"/>
<rect x="563.12" y="78.98" width="11.82" height="16.36" fill="#050080" stroke="#a3a3a3" stroke-width="0.55"/>
<rect x="574.94" y="78.98" width="11.82" height="16.36" fill="#fcc0aa" stroke="#a3a3a3" stroke-width="0.55"/>
<rect x="586.76" y="78.98" width="11.82" height="16.36" fill="#1c0694" stroke="#a3a3a3" stroke-width="0.55"/>
<rect x="598.58" y="78.98" width="11.82" height="16.36" fill="#050080" stroke="#a3a3a3" stroke-width="0.55"/>
<text class="l" x="612.40" y="87.36" font-size="6.6" dy="0.35em">RIF−7</text>
<rect x="551.30" y="95.34" width="11.82" height="16.36" fill="#050080" stroke="#a3a3a3" stroke-width="0.55"/>
<rect x="563.12" y="95.34" width="11.82" height="16.36" fill="#050080" stroke="#a3a3a3" stroke-width="0.55"/>
<rect x="574.94" y="95.34" width="11.82" height="16.36" fill="#fcc4ae" stroke="#a3a3a3" stroke-width="0.55"/>
<rect x="586.76" y="95.34" width="11.82" height="16.36" fill="#050080" stroke="#a3a3a3" stroke-width="0.55"/>
<rect x="598.58" y="95.34" width="11.82" height="16.36" fill="#050080" stroke="#a3a3a3" stroke-width="0.55"/>
<text class="l" x="612.40" y="103.72" font-size="6.6" dy="0.35em">RIF−1</text>
<rect x="551.30" y="111.70" width="11.82" height="16.36" fill="#050080" stroke="#a3a3a3" stroke-width="0.55"/>
<rect x="563.12" y="111.70" width="11.82" height="16.36" fill="#050080" stroke="#a3a3a3" stroke-width="0.55"/>
<rect x="574.94" y="111.70" width="11.82" height="16.36" fill="#f4a098" stroke="#a3a3a3" stroke-width="0.55"/>
<rect x="586.76" y="111.70" width="11.82" height="16.36" fill="#4410b4" stroke="#a3a3a3" stroke-width="0.55"/>
<rect x="598.58" y="111.70" width="11.82" height="16.36" fill="#0c0286" stroke="#a3a3a3" stroke-width="0.55"/>
<text class="l" x="612.40" y="120.08" font-size="6.6" dy="0.35em">RIF−6</text>
<rect x="551.30" y="128.06" width="11.82" height="16.36" fill="#050080" stroke="#a3a3a3" stroke-width="0.55"/>
<rect x="563.12" y="128.06" width="11.82" height="16.36" fill="#050080" stroke="#a3a3a3" stroke-width="0.55"/>
<rect x="574.94" y="128.06" width="11.82" height="16.36" fill="#f5a49a" stroke="#a3a3a3" stroke-width="0.55"/>
<rect x="586.76" y="128.06" width="11.82" height="16.36" fill="#3a0cac" stroke="#a3a3a3" stroke-width="0.55"/>
<rect x="598.58" y="128.06" width="11.82" height="16.36" fill="#050080" stroke="#a3a3a3" stroke-width="0.55"/>
<text class="l" x="612.40" y="136.44" font-size="6.6" dy="0.35em">RIF−9</text>
<rect x="551.30" y="144.42" width="11.82" height="16.36" fill="#050080" stroke="#a3a3a3" stroke-width="0.55"/>
<rect x="563.12" y="144.42" width="11.82" height="16.36" fill="#050080" stroke="#a3a3a3" stroke-width="0.55"/>
<rect x="574.94" y="144.42" width="11.82" height="16.36" fill="#f6a89c" stroke="#a3a3a3" stroke-width="0.55"/>
<rect x="586.76" y="144.42" width="11.82" height="16.36" fill="#3a0cac" stroke="#a3a3a3" stroke-width="0.55"/>
<rect x="598.58" y="144.42" width="11.82" height="16.36" fill="#050080" stroke="#a3a3a3" stroke-width="0.55"/>
<text class="l" x="612.40" y="152.80" font-size="6.6" dy="0.35em">RIF−3</text>
<rect x="551.30" y="160.78" width="11.82" height="16.36" fill="#050080" stroke="#a3a3a3" stroke-width="0.55"/>
<rect x="563.12" y="160.78" width="11.82" height="16.36" fill="#050080" stroke="#a3a3a3" stroke-width="0.55"/>
<rect x="574.94" y="160.78" width="11.82" height="16.36" fill="#f08c8c" stroke="#a3a3a3" stroke-width="0.55"/>
<rect x="586.76" y="160.78" width="11.82" height="16.36" fill="#4410b4" stroke="#a3a3a3" stroke-width="0.55"/>
<rect x="598.58" y="160.78" width="11.82" height="16.36" fill="#1c0694" stroke="#a3a3a3" stroke-width="0.55"/>
<text class="l" x="612.40" y="169.16" font-size="6.6" dy="0.35em">RIF−5</text>
<rect x="551.30" y="177.14" width="11.82" height="16.36" fill="#050080" stroke="#a3a3a3" stroke-width="0.55"/>
<rect x="563.12" y="177.14" width="11.82" height="16.36" fill="#050080" stroke="#a3a3a3" stroke-width="0.55"/>
<rect x="574.94" y="177.14" width="11.82" height="16.36" fill="#ee8488" stroke="#a3a3a3" stroke-width="0.55"/>
<rect x="586.76" y="177.14" width="11.82" height="16.36" fill="#7218c8" stroke="#a3a3a3" stroke-width="0.55"/>
<rect x="598.58" y="177.14" width="11.82" height="16.36" fill="#050080" stroke="#a3a3a3" stroke-width="0.55"/>
<text class="l" x="612.40" y="185.52" font-size="6.6" dy="0.35em">RIF−4</text>
<text class="l" x="556.91" y="195.70" font-size="6.6" transform="rotate(90 556.91 195.70)" dy="0.35em">3−LH</text>
<text class="l" x="568.73" y="195.70" font-size="6.6" transform="rotate(90 568.73 195.70)" dy="0.35em">5−LH</text>
<text class="l" x="580.55" y="195.70" font-size="6.6" transform="rotate(90 580.55 195.70)" dy="0.35em">7−LH</text>
<text class="l" x="592.37" y="195.70" font-size="6.6" transform="rotate(90 592.37 195.70)" dy="0.35em">9−LH</text>
<text class="l" x="604.19" y="195.70" font-size="6.6" transform="rotate(90 604.19 195.70)" dy="0.35em">11−LH</text>
<rect x="638.90" y="29.90" width="7.00" height="100.70" fill="url(#hm)" stroke="none" stroke-width="0.5"/>
<text class="l" x="648.70" y="48.00" font-size="6.3" dy="0.35em">0.8</text>
<text class="l" x="648.70" y="69.00" font-size="6.3" dy="0.35em">0.6</text>
<text class="l" x="648.70" y="90.00" font-size="6.3" dy="0.35em">0.4</text>
<text class="l" x="648.70" y="110.60" font-size="6.3" dy="0.35em">0.2</text>
<text class="l" x="648.70" y="130.40" font-size="6.3" dy="0.35em">0</text>
<text class="l" x="581.20" y="17.45" font-size="9.4" text-anchor="middle" dy="0.35em">str</text>
<path d="M545.77,38.32L545.77,54.72M545.77,38.32L551.64,38.32M545.77,54.72L551.64,54.72M515.62,46.50L545.77,46.50M549.85,87.53L549.85,103.93M549.85,87.53L551.64,87.53M549.85,103.93L551.64,103.93M548.32,71.12L548.32,95.80M548.32,71.12L551.64,71.12M548.32,95.80L549.85,95.80M538.10,83.28L548.32,83.28M550.11,136.73L550.11,153.13M550.11,136.73L551.64,136.73M550.11,153.13L551.64,153.13M549.09,120.33L549.09,144.85M549.09,120.33L551.64,120.33M549.09,144.85L550.11,144.85M547.04,169.53L547.04,185.93M547.04,169.53L551.64,169.53M547.04,185.93L551.64,185.93M544.49,132.59L544.49,177.81M544.49,132.59L549.09,132.59M544.49,177.81L547.04,177.81M538.10,155.07L544.49,155.07M538.10,83.28L538.10,155.07M515.62,119.05L538.10,119.05M515.62,46.50L515.62,119.05" fill="none" stroke="#000" stroke-width="0.65"/>
<text class="l" x="35.00" y="252.60" font-size="6.4" dy="0.35em">group</text>
<g stroke="#e04cbf" stroke-width="0.6" fill="none"><rect x="54.99" y="249.9" width="8.2" height="5.5" fill="#fff"/><line x1="54.99" y1="252.7" x2="63.19" y2="252.7" stroke-width="0.9"/><line x1="59.09" y1="248.6" x2="59.09" y2="256.8"/></g>
<circle cx="59.09" cy="252.7" r="1.0" fill="#e04cbf"/>
<text class="l" x="66.93" y="252.60" font-size="5.6" dy="0.35em">LH7</text>
<g stroke="#ffb3b3" stroke-width="0.6" fill="none"><rect x="80.54" y="249.9" width="8.2" height="5.5" fill="#fff"/><line x1="80.54" y1="252.7" x2="88.74" y2="252.7" stroke-width="0.9"/><line x1="84.64" y1="248.6" x2="84.64" y2="256.8"/></g>
<circle cx="84.64" cy="252.7" r="1.0" fill="#ffb3b3"/>
<text class="l" x="92.48" y="252.60" font-size="5.6" dy="0.35em">RIFClass1</text>
<g stroke="#ffa4ac" stroke-width="0.6" fill="none"><rect x="121.93" y="249.9" width="8.2" height="5.5" fill="#fff"/><line x1="121.93" y1="252.7" x2="130.13" y2="252.7" stroke-width="0.9"/><line x1="126.03" y1="248.6" x2="126.03" y2="256.8"/></g>
<circle cx="126.03" cy="252.7" r="1.0" fill="#ffa4ac"/>
<text class="l" x="133.87" y="252.60" font-size="5.6" dy="0.35em">RIFClass2</text>
<line x1="32.19" y1="267.00" x2="32.19" y2="376.90" stroke="#111" stroke-width="0.7"/>
<line x1="31.89" y1="376.60" x2="160.44" y2="376.60" stroke="#111" stroke-width="0.7"/>
<line x1="30.59" y1="286.30" x2="32.19" y2="286.30" stroke="#111" stroke-width="0.6"/>
<text class="l" x="29.59" y="286.30" font-size="6.6" text-anchor="end" dy="0.35em">0.4</text>
<line x1="30.59" y1="307.20" x2="32.19" y2="307.20" stroke="#111" stroke-width="0.6"/>
<text class="l" x="29.59" y="307.20" font-size="6.6" text-anchor="end" dy="0.35em">0.3</text>
<line x1="30.59" y1="328.00" x2="32.19" y2="328.00" stroke="#111" stroke-width="0.6"/>
<text class="l" x="29.59" y="328.00" font-size="6.6" text-anchor="end" dy="0.35em">0.2</text>
<line x1="30.59" y1="348.60" x2="32.19" y2="348.60" stroke="#111" stroke-width="0.6"/>
<text class="l" x="29.59" y="348.60" font-size="6.6" text-anchor="end" dy="0.35em">0.1</text>
<line x1="30.59" y1="369.40" x2="32.19" y2="369.40" stroke="#111" stroke-width="0.6"/>
<text class="l" x="29.59" y="369.40" font-size="6.6" text-anchor="end" dy="0.35em">0.0</text>
<text class="l" x="14.93" y="322.00" font-size="6.55" text-anchor="middle" transform="rotate(-90 14.93 322.00)" dy="0.35em">Decidualization Score (Cluster 4)</text>
<line x1="56.20" y1="376.60" x2="56.20" y2="378.20" stroke="#111" stroke-width="0.6"/>
<text class="l" x="56.20" y="382.90" font-size="6.6" text-anchor="middle" dy="0.35em">LH7</text>
<line x1="96.57" y1="376.60" x2="96.57" y2="378.20" stroke="#111" stroke-width="0.6"/>
<text class="l" x="96.57" y="382.90" font-size="6.6" text-anchor="middle" dy="0.35em">RIFClass1</text>
<line x1="137.19" y1="376.60" x2="137.19" y2="378.20" stroke="#111" stroke-width="0.6"/>
<text class="l" x="137.19" y="382.90" font-size="6.6" text-anchor="middle" dy="0.35em">RIFClass2</text>
<line x1="56.20" y1="320.36" x2="56.20" y2="326.50" stroke="#e04cbf" stroke-width="0.6"/>
<line x1="56.20" y1="347.70" x2="56.20" y2="371.46" stroke="#e04cbf" stroke-width="0.6"/>
<rect x="42.41" y="326.50" width="28.36" height="21.20" fill="#fff" stroke="#e04cbf" stroke-width="0.6"/>
<line x1="42.41" y1="334.16" x2="70.77" y2="334.16" stroke="#e04cbf" stroke-width="1.0"/>
<circle cx="60.80" cy="319.85" r="1.25" fill="#e04cbf"/>
<circle cx="54.93" cy="325.22" r="1.25" fill="#e04cbf"/>
<circle cx="52.88" cy="330.07" r="1.25" fill="#e04cbf"/>
<circle cx="62.59" cy="337.99" r="1.25" fill="#e04cbf"/>
<circle cx="63.36" cy="350.77" r="1.25" fill="#e04cbf"/>
<circle cx="49.05" cy="371.46" r="1.25" fill="#e04cbf"/>
<line x1="96.57" y1="294.82" x2="96.57" y2="301.20" stroke="#ffb3b3" stroke-width="0.6"/>
<line x1="96.57" y1="324.20" x2="96.57" y2="339.27" stroke="#ffb3b3" stroke-width="0.6"/>
<rect x="82.52" y="301.20" width="28.36" height="22.99" fill="#fff" stroke="#ffb3b3" stroke-width="0.6"/>
<line x1="82.52" y1="308.36" x2="110.88" y2="308.36" stroke="#ffb3b3" stroke-width="1.0"/>
<circle cx="97.85" cy="294.56" r="1.25" fill="#ffb3b3"/>
<circle cx="102.96" cy="308.10" r="1.25" fill="#ffb3b3"/>
<circle cx="96.06" cy="339.27" r="1.25" fill="#ffb3b3"/>
<line x1="137.19" y1="319.60" x2="137.19" y2="321.39" stroke="#ffa4ac" stroke-width="0.6"/>
<line x1="137.19" y1="333.14" x2="137.19" y2="343.87" stroke="#ffa4ac" stroke-width="0.6"/>
<rect x="122.63" y="321.39" width="29.12" height="11.75" fill="#fff" stroke="#ffa4ac" stroke-width="0.6"/>
<line x1="122.63" y1="327.52" x2="151.75" y2="327.52" stroke="#ffa4ac" stroke-width="1.0"/>
<circle cx="144.34" cy="299.67" r="1.25" fill="#ffa4ac"/>
<circle cx="137.96" cy="320.36" r="1.25" fill="#ffa4ac"/>
<circle cx="139.74" cy="322.92" r="1.25" fill="#ffa4ac"/>
<circle cx="130.80" cy="328.54" r="1.25" fill="#ffa4ac"/>
<circle cx="135.91" cy="327.26" r="1.25" fill="#ffa4ac"/>
<circle cx="137.44" cy="336.72" r="1.25" fill="#ffa4ac"/>
<circle cx="143.07" cy="344.38" r="1.25" fill="#ffa4ac"/>
<path d="M56.20,274.26V272.26H137.44V274.26" fill="none" stroke="#222" stroke-width="0.6"/>
<text class="l" x="96.57" y="268.94" font-size="5.6" text-anchor="middle" fill="#222" stroke="#222" dy="0.35em">ns</text>
<path d="M96.57,283.72V281.72H137.44V283.72" fill="none" stroke="#222" stroke-width="0.6"/>
<text class="l" x="116.75" y="278.65" font-size="5.6" text-anchor="middle" fill="#222" stroke="#222" dy="0.35em">ns</text>
<path d="M56.20,292.91V290.91H96.57V292.91" fill="none" stroke="#222" stroke-width="0.6"/>
<text class="l" x="76.64" y="287.59" font-size="5.6" text-anchor="middle" fill="#222" stroke="#222" dy="0.35em">ns</text>
<text class="l" x="191.82" y="252.60" font-size="6.4" dy="0.35em">group</text>
<g stroke="#e04cbf" stroke-width="0.6" fill="none"><rect x="211.82" y="249.9" width="8.2" height="5.5" fill="#fff"/><line x1="211.82" y1="252.7" x2="220.02" y2="252.7" stroke-width="0.9"/><line x1="215.92" y1="248.6" x2="215.92" y2="256.8"/></g>
<circle cx="215.92" cy="252.7" r="1.0" fill="#e04cbf"/>
<text class="l" x="223.76" y="252.60" font-size="5.6" dy="0.35em">LH7</text>
<g stroke="#ffb3b3" stroke-width="0.6" fill="none"><rect x="237.88" y="249.9" width="8.2" height="5.5" fill="#fff"/><line x1="237.88" y1="252.7" x2="246.08" y2="252.7" stroke-width="0.9"/><line x1="241.98" y1="248.6" x2="241.98" y2="256.8"/></g>
<circle cx="241.98" cy="252.7" r="1.0" fill="#ffb3b3"/>
<text class="l" x="249.82" y="252.60" font-size="5.6" dy="0.35em">RIFClass1</text>
<g stroke="#ffa4ac" stroke-width="0.6" fill="none"><rect x="278.24" y="249.9" width="8.2" height="5.5" fill="#fff"/><line x1="278.24" y1="252.7" x2="286.44" y2="252.7" stroke-width="0.9"/><line x1="282.34" y1="248.6" x2="282.34" y2="256.8"/></g>
<circle cx="282.34" cy="252.7" r="1.0" fill="#ffa4ac"/>
<text class="l" x="290.18" y="252.60" font-size="5.6" dy="0.35em">RIFClass2</text>
<line x1="190.80" y1="267.00" x2="190.80" y2="376.90" stroke="#111" stroke-width="0.7"/>
<line x1="190.50" y1="376.60" x2="315.73" y2="376.60" stroke="#111" stroke-width="0.7"/>
<line x1="189.20" y1="269.50" x2="190.80" y2="269.50" stroke="#111" stroke-width="0.6"/>
<text class="l" x="188.20" y="269.50" font-size="6.6" text-anchor="end" dy="0.35em">1.00</text>
<line x1="189.20" y1="299.70" x2="190.80" y2="299.70" stroke="#111" stroke-width="0.6"/>
<text class="l" x="188.20" y="299.70" font-size="6.6" text-anchor="end" dy="0.35em">0.75</text>
<line x1="189.20" y1="330.00" x2="190.80" y2="330.00" stroke="#111" stroke-width="0.6"/>
<text class="l" x="188.20" y="330.00" font-size="6.6" text-anchor="end" dy="0.35em">0.50</text>
<line x1="189.20" y1="360.40" x2="190.80" y2="360.40" stroke="#111" stroke-width="0.6"/>
<text class="l" x="188.20" y="360.40" font-size="6.6" text-anchor="end" dy="0.35em">0.25</text>
<text class="l" x="170.22" y="322.00" font-size="6.55" text-anchor="middle" transform="rotate(-90 170.22 322.00)" dy="0.35em">Decidualization Score (Cluster 5)</text>
<line x1="214.31" y1="376.60" x2="214.31" y2="378.20" stroke="#111" stroke-width="0.6"/>
<text class="l" x="214.31" y="382.90" font-size="6.6" text-anchor="middle" dy="0.35em">LH7</text>
<line x1="253.65" y1="376.60" x2="253.65" y2="378.20" stroke="#111" stroke-width="0.6"/>
<text class="l" x="253.65" y="382.90" font-size="6.6" text-anchor="middle" dy="0.35em">RIFClass1</text>
<line x1="292.74" y1="376.60" x2="292.74" y2="378.20" stroke="#111" stroke-width="0.6"/>
<text class="l" x="292.74" y="382.90" font-size="6.6" text-anchor="middle" dy="0.35em">RIFClass2</text>
<line x1="214.31" y1="294.82" x2="214.31" y2="322.41" stroke="#e04cbf" stroke-width="0.6"/>
<line x1="214.31" y1="346.68" x2="214.31" y2="371.46" stroke="#e04cbf" stroke-width="0.6"/>
<rect x="200.26" y="322.41" width="28.10" height="24.27" fill="#fff" stroke="#e04cbf" stroke-width="0.6"/>
<line x1="200.26" y1="339.53" x2="228.36" y2="339.53" stroke="#e04cbf" stroke-width="1.0"/>
<circle cx="207.41" cy="294.56" r="1.25" fill="#e04cbf"/>
<circle cx="210.99" cy="317.55" r="1.25" fill="#e04cbf"/>
<circle cx="212.77" cy="337.23" r="1.25" fill="#e04cbf"/>
<circle cx="220.44" cy="342.08" r="1.25" fill="#e04cbf"/>
<circle cx="221.20" cy="348.21" r="1.25" fill="#e04cbf"/>
<circle cx="218.65" cy="371.97" r="1.25" fill="#e04cbf"/>
<line x1="253.65" y1="300.44" x2="253.65" y2="300.44" stroke="#ffb3b3" stroke-width="0.6"/>
<line x1="253.65" y1="314.74" x2="253.65" y2="329.05" stroke="#ffb3b3" stroke-width="0.6"/>
<rect x="239.60" y="300.44" width="28.10" height="14.31" fill="#fff" stroke="#ffb3b3" stroke-width="0.6"/>
<line x1="239.60" y1="300.44" x2="267.70" y2="300.44" stroke="#ffb3b3" stroke-width="1.0"/>
<circle cx="254.93" cy="299.93" r="1.25" fill="#ffb3b3"/>
<circle cx="260.04" cy="300.44" r="1.25" fill="#ffb3b3"/>
<circle cx="252.88" cy="329.05" r="1.25" fill="#ffb3b3"/>
<line x1="292.74" y1="327.77" x2="292.74" y2="327.77" stroke="#ffa4ac" stroke-width="0.6"/>
<line x1="292.74" y1="347.70" x2="292.74" y2="363.80" stroke="#ffa4ac" stroke-width="0.6"/>
<rect x="278.94" y="327.77" width="27.85" height="19.93" fill="#fff" stroke="#ffa4ac" stroke-width="0.6"/>
<line x1="278.94" y1="331.35" x2="306.79" y2="331.35" stroke="#ffa4ac" stroke-width="1.0"/>
<circle cx="291.97" cy="294.56" r="1.25" fill="#ffa4ac"/>
<circle cx="286.61" cy="327.52" r="1.25" fill="#ffa4ac"/>
<circle cx="293.76" cy="328.54" r="1.25" fill="#ffa4ac"/>
<circle cx="299.89" cy="331.61" r="1.25" fill="#ffa4ac"/>
<circle cx="295.80" cy="347.19" r="1.25" fill="#ffa4ac"/>
<circle cx="298.87" cy="348.47" r="1.25" fill="#ffa4ac"/>
<circle cx="293.25" cy="364.05" r="1.25" fill="#ffa4ac"/>
<path d="M214.31,274.52V272.52H292.74V274.52" fill="none" stroke="#222" stroke-width="0.6"/>
<text class="l" x="253.65" y="269.20" font-size="5.6" text-anchor="middle" fill="#222" stroke="#222" dy="0.35em">ns</text>
<path d="M253.65,283.46V281.46H292.74V283.46" fill="none" stroke="#222" stroke-width="0.6"/>
<text class="l" x="273.32" y="278.65" font-size="5.6" text-anchor="middle" fill="#222" stroke="#222" dy="0.35em">ns</text>
<path d="M214.31,292.91V290.91H253.65V292.91" fill="none" stroke="#222" stroke-width="0.6"/>
<text class="l" x="233.98" y="287.59" font-size="5.6" text-anchor="middle" fill="#222" stroke="#222" dy="0.35em">ns</text>
<text class="l" x="344.78" y="252.60" font-size="6.4" dy="0.35em">group</text>
<g stroke="#e04cbf" stroke-width="0.6" fill="none"><rect x="364.26" y="249.9" width="8.2" height="5.5" fill="#fff"/><line x1="364.26" y1="252.7" x2="372.46" y2="252.7" stroke-width="0.9"/><line x1="368.36" y1="248.6" x2="368.36" y2="256.8"/></g>
<circle cx="368.36" cy="252.7" r="1.0" fill="#e04cbf"/>
<text class="l" x="376.72" y="252.60" font-size="5.6" dy="0.35em">LH7</text>
<g stroke="#ffb3b3" stroke-width="0.6" fill="none"><rect x="390.83" y="249.9" width="8.2" height="5.5" fill="#fff"/><line x1="390.83" y1="252.7" x2="399.03" y2="252.7" stroke-width="0.9"/><line x1="394.93" y1="248.6" x2="394.93" y2="256.8"/></g>
<circle cx="394.93" cy="252.7" r="1.0" fill="#ffb3b3"/>
<text class="l" x="402.77" y="252.60" font-size="5.6" dy="0.35em">RIFClass1</text>
<g stroke="#ffa4ac" stroke-width="0.6" fill="none"><rect x="431.20" y="249.9" width="8.2" height="5.5" fill="#fff"/><line x1="431.20" y1="252.7" x2="439.40" y2="252.7" stroke-width="0.9"/><line x1="435.30" y1="248.6" x2="435.30" y2="256.8"/></g>
<circle cx="435.30" cy="252.7" r="1.0" fill="#ffa4ac"/>
<text class="l" x="443.65" y="252.60" font-size="5.6" dy="0.35em">RIFClass2</text>
<line x1="342.48" y1="267.00" x2="342.48" y2="376.90" stroke="#111" stroke-width="0.7"/>
<line x1="342.18" y1="376.60" x2="472.01" y2="376.60" stroke="#111" stroke-width="0.7"/>
<line x1="340.88" y1="281.20" x2="342.48" y2="281.20" stroke="#111" stroke-width="0.6"/>
<text class="l" x="339.88" y="281.20" font-size="6.6" text-anchor="end" dy="0.35em">0.8</text>
<line x1="340.88" y1="299.90" x2="342.48" y2="299.90" stroke="#111" stroke-width="0.6"/>
<text class="l" x="339.88" y="299.90" font-size="6.6" text-anchor="end" dy="0.35em">0.7</text>
<line x1="340.88" y1="318.50" x2="342.48" y2="318.50" stroke="#111" stroke-width="0.6"/>
<text class="l" x="339.88" y="318.50" font-size="6.6" text-anchor="end" dy="0.35em">0.6</text>
<line x1="340.88" y1="337.20" x2="342.48" y2="337.20" stroke="#111" stroke-width="0.6"/>
<text class="l" x="339.88" y="337.20" font-size="6.6" text-anchor="end" dy="0.35em">0.5</text>
<line x1="340.88" y1="355.60" x2="342.48" y2="355.60" stroke="#111" stroke-width="0.6"/>
<text class="l" x="339.88" y="355.60" font-size="6.6" text-anchor="end" dy="0.35em">0.4</text>
<line x1="340.88" y1="374.30" x2="342.48" y2="374.30" stroke="#111" stroke-width="0.6"/>
<text class="l" x="339.88" y="374.30" font-size="6.6" text-anchor="end" dy="0.35em">0.3</text>
<text class="l" x="324.71" y="322.00" font-size="6.55" text-anchor="middle" transform="rotate(-90 324.71 322.00)" dy="0.35em">Receptivity Score (Cluster 3)</text>
<line x1="366.75" y1="376.60" x2="366.75" y2="378.20" stroke="#111" stroke-width="0.6"/>
<text class="l" x="366.75" y="382.90" font-size="6.6" text-anchor="middle" dy="0.35em">LH7</text>
<line x1="406.86" y1="376.60" x2="406.86" y2="378.20" stroke="#111" stroke-width="0.6"/>
<text class="l" x="406.86" y="382.90" font-size="6.6" text-anchor="middle" dy="0.35em">RIFClass1</text>
<line x1="446.97" y1="376.60" x2="446.97" y2="378.20" stroke="#111" stroke-width="0.6"/>
<text class="l" x="446.97" y="382.90" font-size="6.6" text-anchor="middle" dy="0.35em">RIFClass2</text>
<line x1="366.75" y1="294.56" x2="366.75" y2="294.56" stroke="#e04cbf" stroke-width="0.6"/>
<line x1="366.75" y1="323.43" x2="366.75" y2="353.58" stroke="#e04cbf" stroke-width="0.6"/>
<rect x="352.45" y="294.56" width="28.10" height="28.87" fill="#fff" stroke="#e04cbf" stroke-width="0.6"/>
<line x1="352.45" y1="300.18" x2="380.55" y2="300.18" stroke="#e04cbf" stroke-width="1.0"/>
<circle cx="362.92" cy="294.82" r="1.25" fill="#e04cbf"/>
<circle cx="365.22" cy="294.05" r="1.25" fill="#e04cbf"/>
<circle cx="372.88" cy="294.31" r="1.25" fill="#e04cbf"/>
<circle cx="371.09" cy="306.31" r="1.25" fill="#e04cbf"/>
<circle cx="359.09" cy="329.31" r="1.25" fill="#e04cbf"/>
<circle cx="373.65" cy="353.58" r="1.25" fill="#e04cbf"/>
<line x1="406.86" y1="359.71" x2="406.86" y2="361.75" stroke="#ffb3b3" stroke-width="0.6"/>
<line x1="406.86" y1="367.63" x2="406.86" y2="370.95" stroke="#ffb3b3" stroke-width="0.6"/>
<rect x="392.55" y="361.75" width="28.87" height="5.88" fill="#fff" stroke="#ffb3b3" stroke-width="0.6"/>
<line x1="392.55" y1="364.05" x2="421.42" y2="364.05" stroke="#ffb3b3" stroke-width="1.0"/>
<circle cx="406.35" cy="359.71" r="1.25" fill="#ffb3b3"/>
<circle cx="408.14" cy="364.05" r="1.25" fill="#ffb3b3"/>
<circle cx="413.25" cy="371.46" r="1.25" fill="#ffb3b3"/>
<line x1="446.97" y1="310.15" x2="446.97" y2="320.88" stroke="#ffa4ac" stroke-width="0.6"/>
<line x1="446.97" y1="340.80" x2="446.97" y2="356.64" stroke="#ffa4ac" stroke-width="0.6"/>
<rect x="433.17" y="320.88" width="28.61" height="19.93" fill="#fff" stroke="#ffa4ac" stroke-width="0.6"/>
<line x1="433.17" y1="321.39" x2="461.79" y2="321.39" stroke="#ffa4ac" stroke-width="1.0"/>
<circle cx="453.36" cy="310.15" r="1.25" fill="#ffa4ac"/>
<circle cx="446.46" cy="320.36" r="1.25" fill="#ffa4ac"/>
<circle cx="447.23" cy="321.64" r="1.25" fill="#ffa4ac"/>
<circle cx="454.38" cy="321.13" r="1.25" fill="#ffa4ac"/>
<circle cx="440.84" cy="328.54" r="1.25" fill="#ffa4ac"/>
<circle cx="450.29" cy="353.58" r="1.25" fill="#ffa4ac"/>
<circle cx="448.25" cy="356.90" r="1.25" fill="#ffa4ac"/>
<path d="M366.24,273.75V271.75H447.23V273.75" fill="none" stroke="#222" stroke-width="0.6"/>
<text class="l" x="406.86" y="268.94" font-size="5.6" text-anchor="middle" fill="#222" stroke="#222" dy="0.35em">ns</text>
<path d="M406.86,283.46V281.46H447.23V283.46" fill="none" stroke="#222" stroke-width="0.6"/>
<text class="l" x="427.30" y="277.88" font-size="5.6" text-anchor="middle" fill="#222" stroke="#222" dy="0.35em">**</text>
<path d="M366.24,292.91V290.91H406.86V292.91" fill="none" stroke="#222" stroke-width="0.6"/>
<text class="l" x="386.93" y="287.08" font-size="5.6" text-anchor="middle" fill="#222" stroke="#222" dy="0.35em">**</text>
<text class="l" x="499.78" y="252.60" font-size="6.4" dy="0.35em">group</text>
<g stroke="#e04cbf" stroke-width="0.6" fill="none"><rect x="519.26" y="249.9" width="8.2" height="5.5" fill="#fff"/><line x1="519.26" y1="252.7" x2="527.46" y2="252.7" stroke-width="0.9"/><line x1="523.36" y1="248.6" x2="523.36" y2="256.8"/></g>
<circle cx="523.36" cy="252.7" r="1.0" fill="#e04cbf"/>
<text class="l" x="531.72" y="252.60" font-size="5.6" dy="0.35em">LH7</text>
<g stroke="#ffb3b3" stroke-width="0.6" fill="none"><rect x="545.83" y="249.9" width="8.2" height="5.5" fill="#fff"/><line x1="545.83" y1="252.7" x2="554.03" y2="252.7" stroke-width="0.9"/><line x1="549.93" y1="248.6" x2="549.93" y2="256.8"/></g>
<circle cx="549.93" cy="252.7" r="1.0" fill="#ffb3b3"/>
<text class="l" x="557.77" y="252.60" font-size="5.6" dy="0.35em">RIFClass1</text>
<g stroke="#ffa4ac" stroke-width="0.6" fill="none"><rect x="586.20" y="249.9" width="8.2" height="5.5" fill="#fff"/><line x1="586.20" y1="252.7" x2="594.40" y2="252.7" stroke-width="0.9"/><line x1="590.30" y1="248.6" x2="590.30" y2="256.8"/></g>
<circle cx="590.30" cy="252.7" r="1.0" fill="#ffa4ac"/>
<text class="l" x="598.65" y="252.60" font-size="5.6" dy="0.35em">RIFClass2</text>
<line x1="497.48" y1="267.00" x2="497.48" y2="376.90" stroke="#111" stroke-width="0.7"/>
<line x1="497.18" y1="376.60" x2="627.01" y2="376.60" stroke="#111" stroke-width="0.7"/>
<line x1="495.88" y1="271.50" x2="497.48" y2="271.50" stroke="#111" stroke-width="0.6"/>
<text class="l" x="494.88" y="271.50" font-size="6.6" text-anchor="end" dy="0.35em">0.8</text>
<line x1="495.88" y1="298.60" x2="497.48" y2="298.60" stroke="#111" stroke-width="0.6"/>
<text class="l" x="494.88" y="298.60" font-size="6.6" text-anchor="end" dy="0.35em">0.6</text>
<line x1="495.88" y1="325.70" x2="497.48" y2="325.70" stroke="#111" stroke-width="0.6"/>
<text class="l" x="494.88" y="325.70" font-size="6.6" text-anchor="end" dy="0.35em">0.4</text>
<line x1="495.88" y1="352.80" x2="497.48" y2="352.80" stroke="#111" stroke-width="0.6"/>
<text class="l" x="494.88" y="352.80" font-size="6.6" text-anchor="end" dy="0.35em">0.2</text>
<text class="l" x="479.71" y="322.00" font-size="6.55" text-anchor="middle" transform="rotate(-90 479.71 322.00)" dy="0.35em">Receptivity Score (Cluster 4)</text>
<line x1="521.75" y1="376.60" x2="521.75" y2="378.20" stroke="#111" stroke-width="0.6"/>
<text class="l" x="521.75" y="382.90" font-size="6.6" text-anchor="middle" dy="0.35em">LH7</text>
<line x1="561.86" y1="376.60" x2="561.86" y2="378.20" stroke="#111" stroke-width="0.6"/>
<text class="l" x="561.86" y="382.90" font-size="6.6" text-anchor="middle" dy="0.35em">RIFClass1</text>
<line x1="601.97" y1="376.60" x2="601.97" y2="378.20" stroke="#111" stroke-width="0.6"/>
<text class="l" x="601.97" y="382.90" font-size="6.6" text-anchor="middle" dy="0.35em">RIFClass2</text>
<line x1="521.75" y1="294.56" x2="521.75" y2="311.42" stroke="#e04cbf" stroke-width="0.6"/>
<line x1="521.75" y1="346.42" x2="521.75" y2="352.81" stroke="#e04cbf" stroke-width="0.6"/>
<rect x="507.45" y="311.42" width="28.10" height="35.00" fill="#fff" stroke="#e04cbf" stroke-width="0.6"/>
<line x1="507.45" y1="331.86" x2="535.55" y2="331.86" stroke="#e04cbf" stroke-width="1.0"/>
<circle cx="517.92" cy="294.31" r="1.25" fill="#e04cbf"/>
<circle cx="527.88" cy="307.08" r="1.25" fill="#e04cbf"/>
<circle cx="520.22" cy="323.43" r="1.25" fill="#e04cbf"/>
<circle cx="528.65" cy="340.29" r="1.25" fill="#e04cbf"/>
<circle cx="526.09" cy="348.72" r="1.25" fill="#e04cbf"/>
<circle cx="514.09" cy="353.07" r="1.25" fill="#e04cbf"/>
<line x1="561.86" y1="303.50" x2="561.86" y2="308.10" stroke="#ffb3b3" stroke-width="0.6"/>
<line x1="561.86" y1="323.18" x2="561.86" y2="332.88" stroke="#ffb3b3" stroke-width="0.6"/>
<rect x="547.55" y="308.10" width="28.87" height="15.07" fill="#fff" stroke="#ffb3b3" stroke-width="0.6"/>
<line x1="547.55" y1="313.21" x2="576.42" y2="313.21" stroke="#ffb3b3" stroke-width="1.0"/>
<circle cx="561.35" cy="302.99" r="1.25" fill="#ffb3b3"/>
<circle cx="563.14" cy="313.21" r="1.25" fill="#ffb3b3"/>
<circle cx="568.25" cy="332.88" r="1.25" fill="#ffb3b3"/>
<line x1="601.97" y1="341.31" x2="601.97" y2="346.68" stroke="#ffa4ac" stroke-width="0.6"/>
<line x1="601.97" y1="359.45" x2="601.97" y2="370.95" stroke="#ffa4ac" stroke-width="0.6"/>
<rect x="588.17" y="346.68" width="28.61" height="12.77" fill="#fff" stroke="#ffa4ac" stroke-width="0.6"/>
<line x1="588.17" y1="354.85" x2="616.79" y2="354.85" stroke="#ffa4ac" stroke-width="1.0"/>
<circle cx="601.46" cy="341.06" r="1.25" fill="#ffa4ac"/>
<circle cx="609.63" cy="342.08" r="1.25" fill="#ffa4ac"/>
<circle cx="605.04" cy="350.77" r="1.25" fill="#ffa4ac"/>
<circle cx="595.84" cy="354.60" r="1.25" fill="#ffa4ac"/>
<circle cx="602.74" cy="358.43" r="1.25" fill="#ffa4ac"/>
<circle cx="603.25" cy="360.73" r="1.25" fill="#ffa4ac"/>
<circle cx="608.36" cy="371.20" r="1.25" fill="#ffa4ac"/>
<path d="M521.24,273.75V271.75H602.23V273.75" fill="none" stroke="#222" stroke-width="0.6"/>
<text class="l" x="561.86" y="268.43" font-size="5.6" text-anchor="middle" fill="#222" stroke="#222" dy="0.35em">*</text>
<path d="M561.86,283.46V281.46H602.23V283.46" fill="none" stroke="#222" stroke-width="0.6"/>
<text class="l" x="582.30" y="277.88" font-size="5.6" text-anchor="middle" fill="#222" stroke="#222" dy="0.35em">*</text>
<path d="M521.24,292.91V290.91H561.86V292.91" fill="none" stroke="#222" stroke-width="0.6"/>
<text class="l" x="541.93" y="287.59" font-size="5.6" text-anchor="middle" fill="#222" stroke="#222" dy="0.35em">ns</text>
<text class="d" x="35.30" y="421.20" font-size="8.0" fill="#111" stroke="#111" dy="0.35em">Interferon Gamma Response</text>
<text class="d" x="35.30" y="431.60" font-size="6.7" fill="#111" stroke="#111" dy="0.35em">(Enriched in RIFClass2)</text>
<line x1="35.30" y1="438.40" x2="35.30" y2="570.30" stroke="#222" stroke-width="0.6"/>
<line x1="35.00" y1="570.00" x2="167.30" y2="570.00" stroke="#222" stroke-width="0.6"/>
<rect x="41.10" y="440.45" width="120.60" height="11.30" fill="#8b0000" stroke="#2a0000" stroke-width="0.55"/>
<line x1="33.90" y1="446.10" x2="35.30" y2="446.10" stroke="#222" stroke-width="0.5"/>
<text class="d" x="32.00" y="446.10" font-size="5.3" text-anchor="end" fill="#4d4d4d" stroke="none" dy="0.35em">Macrophage</text>
<rect x="41.10" y="453.39" width="80.50" height="11.30" fill="#8b0000" stroke="#2a0000" stroke-width="0.55"/>
<line x1="33.90" y1="459.04" x2="35.30" y2="459.04" stroke="#222" stroke-width="0.5"/>
<text class="d" x="32.00" y="459.04" font-size="5.3" text-anchor="end" fill="#4d4d4d" stroke="none" dy="0.35em">Neutrophil</text>
<rect x="41.10" y="466.32" width="49.30" height="11.30" fill="#8b0000" stroke="#2a0000" stroke-width="0.55"/>
<line x1="33.90" y1="471.97" x2="35.30" y2="471.97" stroke="#222" stroke-width="0.5"/>
<text class="d" x="32.00" y="471.97" font-size="5.3" text-anchor="end" fill="#4d4d4d" stroke="none" dy="0.35em">NK</text>
<rect x="41.10" y="479.26" width="47.30" height="11.30" fill="#8b0000" stroke="#2a0000" stroke-width="0.55"/>
<line x1="33.90" y1="484.91" x2="35.30" y2="484.91" stroke="#222" stroke-width="0.5"/>
<text class="d" x="32.00" y="484.91" font-size="5.3" text-anchor="end" fill="#4d4d4d" stroke="none" dy="0.35em">CTL</text>
<rect x="41.10" y="492.19" width="36.30" height="11.30" fill="#8b0000" stroke="#2a0000" stroke-width="0.55"/>
<line x1="33.90" y1="497.84" x2="35.30" y2="497.84" stroke="#222" stroke-width="0.5"/>
<text class="d" x="32.00" y="497.84" font-size="5.3" text-anchor="end" fill="#4d4d4d" stroke="none" dy="0.35em">CD8</text>
<rect x="41.10" y="505.13" width="24.60" height="11.30" fill="#8b0000" stroke="#2a0000" stroke-width="0.55"/>
<line x1="33.90" y1="510.78" x2="35.30" y2="510.78" stroke="#222" stroke-width="0.5"/>
<text class="d" x="32.00" y="510.78" font-size="5.3" text-anchor="end" fill="#4d4d4d" stroke="none" dy="0.35em">CD4</text>
<rect x="41.10" y="518.06" width="19.40" height="11.30" fill="#8b0000" stroke="#2a0000" stroke-width="0.55"/>
<line x1="33.90" y1="523.71" x2="35.30" y2="523.71" stroke="#222" stroke-width="0.5"/>
<text class="d" x="32.00" y="523.71" font-size="5.3" text-anchor="end" fill="#4d4d4d" stroke="none" dy="0.35em">Stromal</text>
<rect x="41.10" y="531.00" width="15.40" height="11.30" fill="#8b0000" stroke="#2a0000" stroke-width="0.55"/>
<line x1="33.90" y1="536.64" x2="35.30" y2="536.64" stroke="#222" stroke-width="0.5"/>
<text class="d" x="32.00" y="536.64" font-size="5.3" text-anchor="end" fill="#4d4d4d" stroke="none" dy="0.35em">Endothelial</text>
<rect x="41.10" y="543.93" width="7.40" height="11.30" fill="#8b0000" stroke="#2a0000" stroke-width="0.55"/>
<line x1="33.90" y1="549.58" x2="35.30" y2="549.58" stroke="#222" stroke-width="0.5"/>
<text class="d" x="32.00" y="549.58" font-size="5.3" text-anchor="end" fill="#4d4d4d" stroke="none" dy="0.35em">Glandular</text>
<rect x="41.10" y="556.87" width="5.40" height="11.30" fill="#8b0000" stroke="#2a0000" stroke-width="0.55"/>
<line x1="33.90" y1="562.51" x2="35.30" y2="562.51" stroke="#222" stroke-width="0.5"/>
<text class="d" x="32.00" y="562.51" font-size="5.3" text-anchor="end" fill="#4d4d4d" stroke="none" dy="0.35em">Luminal</text>
<line x1="41.10" y1="570.00" x2="41.10" y2="571.40" stroke="#222" stroke-width="0.5"/>
<text class="d" x="41.10" y="575.40" font-size="5.0" text-anchor="middle" fill="#4d4d4d" stroke="none" dy="0.35em">0</text>
<line x1="71.80" y1="570.00" x2="71.80" y2="571.40" stroke="#222" stroke-width="0.5"/>
<text class="d" x="71.80" y="575.40" font-size="5.0" text-anchor="middle" fill="#4d4d4d" stroke="none" dy="0.35em">10</text>
<line x1="102.50" y1="570.00" x2="102.50" y2="571.40" stroke="#222" stroke-width="0.5"/>
<text class="d" x="102.50" y="575.40" font-size="5.0" text-anchor="middle" fill="#4d4d4d" stroke="none" dy="0.35em">20</text>
<line x1="132.90" y1="570.00" x2="132.90" y2="571.40" stroke="#222" stroke-width="0.5"/>
<text class="d" x="132.90" y="575.40" font-size="5.0" text-anchor="middle" fill="#4d4d4d" stroke="none" dy="0.35em">30</text>
<line x1="163.80" y1="570.00" x2="163.80" y2="571.40" stroke="#222" stroke-width="0.5"/>
<text class="d" x="163.80" y="575.40" font-size="5.0" text-anchor="middle" fill="#4d4d4d" stroke="none" dy="0.35em">40</text>
<text class="d" x="101.20" y="582.70" font-size="6.5" text-anchor="middle" fill="#111" stroke="#111" dy="0.35em">-log10(FDR)</text>
<g filter="url(#rg2)">
<path d="M206.9,469.6 C207.3,468.5 207.9,466.9 209.1,466.1 C210.3,465.2 212.4,464.6 214.2,464.5 C216.0,464.3 218.5,464.6 220.0,465.2 C221.6,465.8 223.2,467.2 223.7,468.1 C224.2,469.1 223.7,470.1 223.0,471.1 C222.3,472.0 220.8,473.2 219.5,474.0 C218.1,474.7 216.3,475.0 214.9,475.4 C213.6,475.9 212.4,476.9 211.3,476.9 C210.2,476.9 209.1,476.2 208.4,475.4 C207.6,474.7 206.8,473.5 206.6,472.5 C206.4,471.5 206.5,470.7 206.9,469.6Z" fill="#70b1f0"/>
<path d="M195.9,489.5 C195.6,488.7 195.0,487.3 195.2,485.7 C195.5,484.1 196.3,481.4 197.4,479.8 C198.5,478.3 200.2,477.2 201.8,476.3 C203.4,475.5 205.8,474.6 206.9,474.7 C208.0,474.8 208.5,475.7 208.6,476.9 C208.8,478.1 208.3,480.4 207.6,482.0 C207.0,483.6 205.9,485.3 204.7,486.4 C203.5,487.5 201.5,488.0 200.3,488.6 C199.1,489.2 198.1,489.9 197.4,490.0 C196.7,490.2 196.3,490.2 195.9,489.5Z" fill="#70b1f0"/>
<path d="M233.9,470.5 C234.3,470.0 236.3,469.1 237.6,468.9 C238.8,468.7 240.1,468.7 241.4,469.3 C242.6,469.9 243.9,471.1 244.9,472.5 C245.8,473.9 247.2,477.5 247.0,477.8 C246.9,478.0 245.1,475.1 244.1,474.1 C243.2,473.2 242.3,472.4 241.2,471.9 C240.1,471.5 238.5,471.4 237.6,471.4 C236.6,471.4 236.0,472.1 235.4,471.9 C234.8,471.8 233.5,471.0 233.9,470.5Z" fill="#70b1f0"/>
<path d="M228.5,480.1 C229.0,479.5 229.8,480.0 229.7,480.7 C229.5,481.4 228.2,483.6 227.6,484.2 C227.1,484.8 226.3,484.9 226.5,484.2 C226.6,483.5 228.0,480.7 228.5,480.1Z" fill="#70b1f0"/>
<path d="M216.4,487.1 C216.8,486.5 218.5,486.1 219.3,486.2 C220.2,486.4 220.9,486.8 221.5,487.8 C222.1,488.8 222.2,490.9 223.0,492.2 C223.7,493.6 225.6,494.8 226.0,495.9 C226.4,497.0 226.0,498.3 225.3,498.8 C224.5,499.3 222.5,499.2 221.5,498.9 C220.5,498.7 219.8,498.3 219.3,497.3 C218.8,496.3 218.9,494.2 218.6,493.0 C218.2,491.7 217.5,491.0 217.1,490.0 C216.8,489.1 216.0,487.7 216.4,487.1Z" fill="#7aa8e6"/>
<path d="M210.1,491.5 C210.8,490.4 211.6,490.4 211.3,491.5 C211.0,492.6 209.0,497.1 208.4,498.2 C207.7,499.3 206.9,499.3 207.2,498.2 C207.5,497.1 209.4,492.6 210.1,491.5Z" fill="#70b1f0"/>
<path d="M212.7,499.7 C213.0,499.5 214.0,499.5 214.2,499.7 C214.4,499.9 214.4,500.6 214.2,500.8 C214.0,501.0 213.0,501.0 212.7,500.8 C212.5,500.6 212.5,499.9 212.7,499.7Z" fill="#70b1f0"/>
<path d="M217.7,507.0 C218.0,506.4 219.6,506.0 220.8,506.1 C221.9,506.2 224.3,506.9 224.4,507.6 C224.5,508.2 222.4,509.6 221.5,509.9 C220.6,510.2 219.5,509.8 218.9,509.3 C218.2,508.8 217.4,507.5 217.7,507.0Z" fill="#70b1f0"/>
<path d="M194.3,519.2 C194.1,517.0 195.0,514.5 195.8,512.8 C196.6,511.2 197.6,510.0 198.9,509.3 C200.1,508.6 201.9,508.3 203.2,508.6 C204.6,508.9 205.6,509.4 206.9,511.2 C208.2,513.0 210.1,516.4 211.3,519.2 C212.5,522.0 213.5,525.3 214.2,528.0 C214.9,530.7 215.6,533.7 215.5,535.3 C215.4,536.9 214.8,537.5 213.6,537.6 C212.4,537.8 210.2,537.1 208.4,536.2 C206.5,535.2 204.3,533.5 202.5,531.8 C200.7,530.1 198.8,528.0 197.4,525.9 C196.0,523.9 194.6,521.4 194.3,519.2Z" fill="#70b1f0"/>
<path d="M233.9,490.0 C234.1,489.1 235.1,488.7 236.1,488.9 C237.1,489.0 238.3,489.8 239.7,490.8 C241.2,491.7 243.3,493.5 244.9,494.4 C246.4,495.3 247.8,496.0 249.2,496.0 C250.7,496.1 252.5,494.5 253.6,494.7 C254.7,494.9 255.5,495.9 255.9,497.3 C256.4,498.7 256.6,501.2 256.4,503.2 C256.1,505.1 255.4,507.2 254.5,509.0 C253.5,510.8 252.1,512.6 250.7,514.1 C249.3,515.6 247.4,516.8 246.3,517.9 C245.2,519.0 244.5,519.5 244.3,520.7 C244.1,521.9 245.2,524.0 245.0,525.1 C244.8,526.2 243.9,527.1 242.8,527.4 C241.7,527.7 239.9,527.4 238.3,526.7 C236.7,525.9 234.6,524.5 233.2,523.0 C231.7,521.5 230.3,519.3 229.5,517.8 C228.8,516.3 228.2,514.9 228.8,514.1 C229.4,513.4 231.8,513.9 233.2,513.4 C234.5,512.9 235.7,512.4 236.8,511.4 C237.9,510.3 239.4,508.3 239.9,507.0 C240.4,505.6 240.4,504.5 239.9,503.2 C239.4,501.8 237.7,500.3 236.8,498.8 C235.9,497.3 235.1,495.9 234.6,494.4 C234.1,493.0 233.7,491.0 233.9,490.0Z" fill="url(#nk)"/>
</g>
<path d="M233.9,490.0 C233.9,488.0 237.2,489.8 239.7,490.8 C242.3,491.8 246.9,495.4 249.2,496.0 C251.5,496.7 252.4,493.5 253.6,494.7 C254.8,495.9 256.9,499.9 256.4,503.2 C255.9,506.4 252.6,510.5 250.7,514.1 C248.8,517.8 247.1,523.0 245.0,525.1 C242.9,527.2 240.9,527.9 238.3,526.7 C235.7,525.5 229.8,520.3 229.5,517.8 C229.3,515.2 235.1,513.8 236.8,511.4 C238.6,508.9 240.4,506.7 239.9,503.2 C239.4,499.6 233.9,492.1 233.9,490.0Z" fill="#fff" filter="url(#spb)" opacity="0.45"/>
<path d="M234.6,491.5 C235.1,490.5 241.0,495.4 243.4,497.3 C245.8,499.3 248.7,500.0 249.2,503.2 C249.7,506.3 247.3,512.7 246.3,516.3 C245.3,520.0 245.3,524.1 243.4,525.1 C241.4,526.0 236.6,523.6 234.6,522.2 C232.7,520.7 231.0,518.3 231.7,516.3 C232.4,514.4 237.6,512.7 239.0,510.5 C240.5,508.3 241.2,506.3 240.5,503.2 C239.7,500.0 234.1,492.5 234.6,491.5Z" fill="#fff" filter="url(#spr)" opacity="0.5"/>
<text class="d" x="225.40" y="452.70" font-size="6.45" text-anchor="middle" font-weight="bold" dy="0.35em">IFNG</text>
<line x1="189.90" y1="458.90" x2="189.90" y2="542.60" stroke="#222" stroke-width="0.6"/>
<line x1="189.60" y1="542.30" x2="260.40" y2="542.30" stroke="#222" stroke-width="0.6"/>
<line x1="188.60" y1="459.60" x2="189.90" y2="459.60" stroke="#222" stroke-width="0.5"/>
<text class="d" x="187.60" y="459.60" font-size="4.8" text-anchor="end" fill="#222" stroke="#222" dy="0.35em">15</text>
<line x1="188.60" y1="475.50" x2="189.90" y2="475.50" stroke="#222" stroke-width="0.5"/>
<text class="d" x="187.60" y="475.50" font-size="4.8" text-anchor="end" fill="#222" stroke="#222" dy="0.35em">10</text>
<line x1="188.60" y1="491.60" x2="189.90" y2="491.60" stroke="#222" stroke-width="0.5"/>
<text class="d" x="187.60" y="491.60" font-size="4.8" text-anchor="end" fill="#222" stroke="#222" dy="0.35em">5</text>
<line x1="188.60" y1="507.40" x2="189.90" y2="507.40" stroke="#222" stroke-width="0.5"/>
<text class="d" x="187.60" y="507.40" font-size="4.8" text-anchor="end" fill="#222" stroke="#222" dy="0.35em">0</text>
<line x1="188.60" y1="523.10" x2="189.90" y2="523.10" stroke="#222" stroke-width="0.5"/>
<text class="d" x="187.60" y="523.10" font-size="4.8" text-anchor="end" fill="#222" stroke="#222" dy="0.35em">-5</text>
<line x1="188.60" y1="539.00" x2="189.90" y2="539.00" stroke="#222" stroke-width="0.5"/>
<text class="d" x="187.60" y="539.00" font-size="4.8" text-anchor="end" fill="#222" stroke="#222" dy="0.35em">-10</text>
<line x1="195.80" y1="542.30" x2="195.80" y2="543.60" stroke="#222" stroke-width="0.5"/>
<text class="d" x="195.80" y="547.00" font-size="4.8" text-anchor="middle" fill="#222" stroke="#222" dy="0.35em">-10</text>
<line x1="209.00" y1="542.30" x2="209.00" y2="543.60" stroke="#222" stroke-width="0.5"/>
<text class="d" x="209.00" y="547.00" font-size="4.8" text-anchor="middle" fill="#222" stroke="#222" dy="0.35em">-5</text>
<line x1="222.60" y1="542.30" x2="222.60" y2="543.60" stroke="#222" stroke-width="0.5"/>
<text class="d" x="222.60" y="547.00" font-size="4.8" text-anchor="middle" fill="#222" stroke="#222" dy="0.35em">0</text>
<line x1="236.10" y1="542.30" x2="236.10" y2="543.60" stroke="#222" stroke-width="0.5"/>
<text class="d" x="236.10" y="547.00" font-size="4.8" text-anchor="middle" fill="#222" stroke="#222" dy="0.35em">5</text>
<line x1="249.40" y1="542.30" x2="249.40" y2="543.60" stroke="#222" stroke-width="0.5"/>
<text class="d" x="249.40" y="547.00" font-size="4.8" text-anchor="middle" fill="#222" stroke="#222" dy="0.35em">10</text>
<text class="d" x="225.00" y="553.20" font-size="5.45" text-anchor="middle" fill="#222" stroke="#222" dy="0.35em">UMAP_1</text>
<text class="d" x="175.40" y="500.80" font-size="5.45" text-anchor="middle" fill="#222" stroke="#222" transform="rotate(-90 175.40 500.80)" dy="0.35em">UMAP_2</text>
<rect x="267.30" y="486.80" width="5.90" height="29.90" fill="url(#fb)" stroke="none" stroke-width="0.5"/>
<text class="d" x="275.60" y="489.20" font-size="4.8" fill="#222" stroke="#222" dy="0.35em">6</text>
<text class="d" x="275.60" y="498.80" font-size="4.8" fill="#222" stroke="#222" dy="0.35em">4</text>
<text class="d" x="275.60" y="508.30" font-size="4.8" fill="#222" stroke="#222" dy="0.35em">2</text>
<text class="d" x="275.60" y="518.00" font-size="4.8" fill="#222" stroke="#222" dy="0.35em">0</text>
<text class="l" x="383.90" y="450.33" font-size="6.7" text-anchor="middle" font-weight="bold" dy="0.35em">IFNG</text>
<line x1="331.13" y1="460.84" x2="331.13" y2="530.91" stroke="#000" stroke-width="0.8"/>
<line x1="330.69" y1="530.47" x2="435.14" y2="530.47" stroke="#000" stroke-width="0.8"/>
<line x1="328.94" y1="461.28" x2="331.13" y2="461.28" stroke="#000" stroke-width="0.7"/>
<text class="l" x="328.28" y="461.28" font-size="4.9" text-anchor="end" font-weight="bold" dy="0.35em">2.5</text>
<line x1="328.94" y1="475.29" x2="331.13" y2="475.29" stroke="#000" stroke-width="0.7"/>
<text class="l" x="328.28" y="475.29" font-size="4.9" text-anchor="end" font-weight="bold" dy="0.35em">2.0</text>
<line x1="328.94" y1="489.09" x2="331.13" y2="489.09" stroke="#000" stroke-width="0.7"/>
<text class="l" x="328.28" y="489.09" font-size="4.9" text-anchor="end" font-weight="bold" dy="0.35em">1.5</text>
<line x1="328.94" y1="502.88" x2="331.13" y2="502.88" stroke="#000" stroke-width="0.7"/>
<text class="l" x="328.28" y="502.88" font-size="4.9" text-anchor="end" font-weight="bold" dy="0.35em">1.0</text>
<line x1="328.94" y1="516.68" x2="331.13" y2="516.68" stroke="#000" stroke-width="0.7"/>
<text class="l" x="328.28" y="516.68" font-size="4.9" text-anchor="end" font-weight="bold" dy="0.35em">0.5</text>
<line x1="328.94" y1="530.47" x2="331.13" y2="530.47" stroke="#000" stroke-width="0.7"/>
<text class="l" x="328.28" y="530.47" font-size="4.9" text-anchor="end" font-weight="bold" dy="0.35em">0.0</text>
<text class="l" x="315.36" y="495.88" font-size="5.4" text-anchor="middle" font-weight="bold" transform="rotate(-90 315.36 495.88)" dy="0.35em">Fold change</text>
<rect x="335.51" y="503.32" width="6.13" height="27.15" fill="#e468c2" stroke="#000" stroke-width="0.9"/>
<rect x="345.80" y="493.25" width="5.69" height="37.23" fill="#ffc2c4" stroke="#000" stroke-width="0.9"/>
<line x1="343.61" y1="530.47" x2="343.61" y2="532.66" stroke="#000" stroke-width="0.7"/>
<text class="l" x="343.61" y="537.70" font-size="5.1" text-anchor="middle" font-weight="bold" dy="0.35em">NK</text>
<rect x="362.44" y="503.32" width="5.91" height="27.15" fill="#e468c2" stroke="#000" stroke-width="0.9"/>
<rect x="372.74" y="480.55" width="5.91" height="49.93" fill="#ffc2c4" stroke="#000" stroke-width="0.9"/>
<line x1="370.55" y1="530.47" x2="370.55" y2="532.66" stroke="#000" stroke-width="0.7"/>
<text class="l" x="370.55" y="537.70" font-size="5.1" text-anchor="middle" font-weight="bold" dy="0.35em">CD4_T</text>
<rect x="389.38" y="503.32" width="5.91" height="27.15" fill="#e468c2" stroke="#000" stroke-width="0.9"/>
<rect x="399.45" y="490.84" width="5.91" height="39.63" fill="#ffc2c4" stroke="#000" stroke-width="0.9"/>
<line x1="397.26" y1="530.47" x2="397.26" y2="532.66" stroke="#000" stroke-width="0.7"/>
<text class="l" x="397.26" y="537.70" font-size="5.1" text-anchor="middle" font-weight="bold" dy="0.35em">CD8_T</text>
<rect x="416.09" y="503.32" width="5.91" height="27.15" fill="#e468c2" stroke="#000" stroke-width="0.9"/>
<rect x="426.39" y="472.66" width="5.91" height="57.81" fill="#ffc2c4" stroke="#000" stroke-width="0.9"/>
<line x1="424.20" y1="530.47" x2="424.20" y2="532.66" stroke="#000" stroke-width="0.7"/>
<text class="l" x="424.20" y="537.70" font-size="5.1" text-anchor="middle" font-weight="bold" dy="0.35em">Treg</text>
<rect x="335.51" y="461.50" width="8.10" height="3.07" fill="#e468c2" stroke="#000" stroke-width="0.9"/>
<rect x="335.51" y="471.35" width="8.10" height="3.07" fill="#ffc2c4" stroke="#000" stroke-width="0.9"/>
<text class="l" x="347.55" y="463.03" font-size="4.6" fill="#222" stroke="#222" dy="0.35em">LH7</text>
<text class="l" x="347.55" y="472.88" font-size="4.6" fill="#222" stroke="#222" dy="0.35em">RIFClass2</text>
<text class="l" x="529.00" y="431.50" font-size="9.55" dy="0.35em">IFNGR1</text>
<text class="l" x="564.90" y="429.30" font-size="6.6" font-weight="bold" dy="0.35em">+</text>
<text class="l" x="570.00" y="431.50" font-size="9.55" dy="0.35em">Luminal epithelial cells</text>
<text class="d" x="521.40" y="461.40" font-size="6.5" fill="#111" stroke="#111" dy="0.35em">Hallmark pathways enriched in upregulated genes</text>
<line x1="522.30" y1="468.00" x2="522.30" y2="505.10" stroke="#222" stroke-width="0.6"/>
<line x1="522.00" y1="504.80" x2="685.00" y2="504.80" stroke="#222" stroke-width="0.6"/>
<rect x="529.40" y="471.50" width="145.60" height="14.70" fill="#8b0000" stroke="#2a0000" stroke-width="0.6"/>
<rect x="529.40" y="488.30" width="104.80" height="14.30" fill="#8b0000" stroke="#2a0000" stroke-width="0.6"/>
<line x1="520.90" y1="478.80" x2="522.30" y2="478.80" stroke="#222" stroke-width="0.5"/>
<text class="d" x="518.80" y="478.80" font-size="5.65" text-anchor="end" fill="#4d4d4d" stroke="none" dy="0.35em">Fatty Acid Metabolism</text>
<line x1="520.90" y1="495.50" x2="522.30" y2="495.50" stroke="#222" stroke-width="0.5"/>
<text class="d" x="518.80" y="495.50" font-size="5.65" text-anchor="end" fill="#4d4d4d" stroke="none" dy="0.35em">UV Response Dn</text>
<line x1="529.40" y1="504.80" x2="529.40" y2="506.20" stroke="#222" stroke-width="0.5"/>
<text class="d" x="529.40" y="510.90" font-size="4.95" text-anchor="middle" fill="#4d4d4d" stroke="none" dy="0.35em">0.0</text>
<line x1="558.70" y1="504.80" x2="558.70" y2="506.20" stroke="#222" stroke-width="0.5"/>
<text class="d" x="558.70" y="510.90" font-size="4.95" text-anchor="middle" fill="#4d4d4d" stroke="none" dy="0.35em">0.5</text>
<line x1="588.00" y1="504.80" x2="588.00" y2="506.20" stroke="#222" stroke-width="0.5"/>
<text class="d" x="588.00" y="510.90" font-size="4.95" text-anchor="middle" fill="#4d4d4d" stroke="none" dy="0.35em">1.0</text>
<line x1="617.80" y1="504.80" x2="617.80" y2="506.20" stroke="#222" stroke-width="0.5"/>
<text class="d" x="617.80" y="510.90" font-size="4.95" text-anchor="middle" fill="#4d4d4d" stroke="none" dy="0.35em">1.5</text>
<line x1="647.00" y1="504.80" x2="647.00" y2="506.20" stroke="#222" stroke-width="0.5"/>
<text class="d" x="647.00" y="510.90" font-size="4.95" text-anchor="middle" fill="#4d4d4d" stroke="none" dy="0.35em">2.0</text>
<line x1="676.40" y1="504.80" x2="676.40" y2="506.20" stroke="#222" stroke-width="0.5"/>
<text class="d" x="676.40" y="510.90" font-size="4.95" text-anchor="middle" fill="#4d4d4d" stroke="none" dy="0.35em">2.5</text>
<text class="d" x="602.20" y="518.10" font-size="7.0" text-anchor="middle" fill="#111" stroke="#111" dy="0.35em">-log10(FDR)</text>
<text class="d" x="520.10" y="548.10" font-size="5.4" fill="#111" stroke="#111" dy="0.35em">Hallmark pathways enriched in downregulated genes</text>
<line x1="520.50" y1="553.60" x2="520.50" y2="681.90" stroke="#222" stroke-width="0.6"/>
<line x1="520.20" y1="681.60" x2="673.20" y2="681.60" stroke="#222" stroke-width="0.6"/>
<rect x="526.90" y="556.40" width="139.50" height="11.20" fill="#000080" stroke="#505050" stroke-width="0.75"/>
<line x1="519.20" y1="562.00" x2="520.50" y2="562.00" stroke="#222" stroke-width="0.5"/>
<text class="d" x="517.80" y="562.00" font-size="4.73" text-anchor="end" fill="#4d4d4d" stroke="none" dy="0.35em">TNF-alpha Signaling via NF-kB</text>
<rect x="526.90" y="568.86" width="95.90" height="11.20" fill="#000080" stroke="#505050" stroke-width="0.75"/>
<line x1="519.20" y1="574.46" x2="520.50" y2="574.46" stroke="#222" stroke-width="0.5"/>
<text class="d" x="517.80" y="574.46" font-size="4.73" text-anchor="end" fill="#4d4d4d" stroke="none" dy="0.35em">Hypoxia</text>
<rect x="526.90" y="581.32" width="88.70" height="11.20" fill="#000080" stroke="#505050" stroke-width="0.75"/>
<line x1="519.20" y1="586.92" x2="520.50" y2="586.92" stroke="#222" stroke-width="0.5"/>
<text class="d" x="517.80" y="586.92" font-size="4.73" text-anchor="end" fill="#4d4d4d" stroke="none" dy="0.35em">p53 Pathway</text>
<rect x="526.90" y="593.78" width="88.00" height="11.20" fill="#000080" stroke="#505050" stroke-width="0.75"/>
<line x1="519.20" y1="599.38" x2="520.50" y2="599.38" stroke="#222" stroke-width="0.5"/>
<text class="d" x="517.80" y="599.38" font-size="4.73" text-anchor="end" fill="#4d4d4d" stroke="none" dy="0.35em">Apoptosis</text>
<rect x="526.90" y="606.24" width="72.60" height="11.20" fill="#000080" stroke="#505050" stroke-width="0.75"/>
<line x1="519.20" y1="611.84" x2="520.50" y2="611.84" stroke="#222" stroke-width="0.5"/>
<text class="d" x="517.80" y="611.84" font-size="4.73" text-anchor="end" fill="#4d4d4d" stroke="none" dy="0.35em">UV Response Up</text>
<rect x="526.90" y="618.70" width="66.90" height="11.20" fill="#000080" stroke="#505050" stroke-width="0.75"/>
<line x1="519.20" y1="624.30" x2="520.50" y2="624.30" stroke="#222" stroke-width="0.5"/>
<text class="d" x="517.80" y="624.30" font-size="4.73" text-anchor="end" fill="#4d4d4d" stroke="none" dy="0.35em">Oxidative Phosphorylation</text>
<rect x="526.90" y="631.16" width="46.10" height="11.20" fill="#000080" stroke="#505050" stroke-width="0.75"/>
<line x1="519.20" y1="636.76" x2="520.50" y2="636.76" stroke="#222" stroke-width="0.5"/>
<text class="d" x="517.80" y="636.76" font-size="4.73" text-anchor="end" fill="#4d4d4d" stroke="none" dy="0.35em">mTORC1 Signaling</text>
<rect x="526.90" y="643.62" width="46.10" height="11.20" fill="#000080" stroke="#505050" stroke-width="0.75"/>
<line x1="519.20" y1="649.22" x2="520.50" y2="649.22" stroke="#222" stroke-width="0.5"/>
<text class="d" x="517.80" y="649.22" font-size="4.73" text-anchor="end" fill="#4d4d4d" stroke="none" dy="0.35em">Estrogen Response Late</text>
<rect x="526.90" y="656.08" width="40.40" height="11.20" fill="#000080" stroke="#505050" stroke-width="0.75"/>
<line x1="519.20" y1="661.68" x2="520.50" y2="661.68" stroke="#222" stroke-width="0.5"/>
<text class="d" x="517.80" y="661.68" font-size="4.73" text-anchor="end" fill="#4d4d4d" stroke="none" dy="0.35em">Estrogen Response Early</text>
<rect x="526.90" y="668.54" width="40.40" height="11.20" fill="#000080" stroke="#505050" stroke-width="0.75"/>
<line x1="519.20" y1="674.14" x2="520.50" y2="674.14" stroke="#222" stroke-width="0.5"/>
<text class="d" x="517.80" y="674.14" font-size="4.73" text-anchor="end" fill="#4d4d4d" stroke="none" dy="0.35em">IL-2/STAT5 Signaling</text>
<line x1="526.90" y1="681.60" x2="526.90" y2="682.90" stroke="#222" stroke-width="0.5"/>
<text class="d" x="526.90" y="686.00" font-size="4.3" text-anchor="middle" fill="#4d4d4d" stroke="none" dy="0.35em">0</text>
<line x1="574.80" y1="681.60" x2="574.80" y2="682.90" stroke="#222" stroke-width="0.5"/>
<text class="d" x="574.80" y="686.00" font-size="4.3" text-anchor="middle" fill="#4d4d4d" stroke="none" dy="0.35em">5</text>
<line x1="622.80" y1="681.60" x2="622.80" y2="682.90" stroke="#222" stroke-width="0.5"/>
<text class="d" x="622.80" y="686.00" font-size="4.3" text-anchor="middle" fill="#4d4d4d" stroke="none" dy="0.35em">10</text>
<line x1="670.70" y1="681.60" x2="670.70" y2="682.90" stroke="#222" stroke-width="0.5"/>
<text class="d" x="670.70" y="686.00" font-size="4.3" text-anchor="middle" fill="#4d4d4d" stroke="none" dy="0.35em">15</text>
<text class="d" x="596.50" y="692.80" font-size="5.9" text-anchor="middle" fill="#111" stroke="#111" dy="0.35em">-log10(FDR)</text>
<line x1="20.10" y1="592.00" x2="20.10" y2="703.50" stroke="#a6a6a6" stroke-width="1.5"/>
<line x1="19.40" y1="592.45" x2="287.80" y2="592.45" stroke="#3a3a3a" stroke-width="0.9"/>
<line x1="287.40" y1="592.00" x2="287.40" y2="703.50" stroke="#3a3a3a" stroke-width="0.9"/>
<line x1="19.40" y1="703.10" x2="287.80" y2="703.10" stroke="#3a3a3a" stroke-width="0.9"/>
<g filter="url(#rg2)">
<path d="M93.6,612.0 C94.1,610.8 94.5,609.7 96.0,608.8 C97.5,607.9 100.0,607.0 102.4,606.7 C104.9,606.5 108.3,606.6 110.5,607.2 C112.6,607.8 114.2,609.1 115.3,610.4 C116.4,611.8 117.1,613.5 117.1,615.3 C117.1,617.0 116.2,619.1 115.3,620.9 C114.4,622.6 112.8,624.2 111.8,625.7 C110.7,627.2 110.2,629.3 108.9,629.9 C107.6,630.4 105.7,629.9 104.1,628.9 C102.4,627.9 100.7,625.7 99.2,624.1 C97.8,622.5 96.2,620.6 95.2,619.3 C94.2,617.9 93.4,617.3 93.1,616.1 C92.9,614.9 93.1,613.2 93.6,612.0Z" fill="#45b7cb"/>
<path d="M84.0,618.9 C84.6,618.2 87.7,617.2 89.6,616.9 C91.5,616.5 94.1,616.2 95.2,616.7 C96.3,617.2 96.9,619.2 96.2,620.1 C95.5,620.9 93.0,621.7 91.2,621.8 C89.4,622.0 86.8,621.7 85.6,621.2 C84.4,620.7 83.3,619.7 84.0,618.9Z" fill="#90dcae"/>
<path d="M116.1,619.3 C117.6,619.8 122.4,621.4 124.9,622.5 C127.5,623.6 129.9,624.5 131.3,625.7 C132.8,626.9 133.3,628.7 133.4,629.7 C133.6,630.7 132.4,631.2 132.2,631.5" fill="none" stroke="#7a68c8" stroke-width="0.7"/>
<path d="M90.9,626.7 C91.0,626.2 92.5,625.7 93.1,626.0 C93.8,626.3 94.9,627.8 94.7,628.3 C94.6,628.7 92.8,629.2 92.2,628.9 C91.5,628.6 90.7,627.1 90.9,626.7Z" fill="#4a1a9a"/>
<path d="M108.1,632.1 C108.5,630.8 110.1,629.8 111.3,629.7 C112.5,629.6 114.1,630.1 115.3,631.3 C116.5,632.5 117.3,635.1 118.5,636.9 C119.7,638.8 122.4,641.2 122.7,642.6 C122.9,643.9 121.3,644.6 120.1,645.1 C118.9,645.7 116.9,646.4 115.3,645.9 C113.7,645.5 111.5,643.9 110.5,642.6 C109.4,641.2 109.3,639.5 108.9,637.7 C108.5,636.0 107.7,633.5 108.1,632.1Z" fill="#2f62c2"/>
<path d="M55.9,632.9 C56.5,632.4 59.2,631.7 60.7,631.3 C62.2,630.9 63.7,630.2 64.7,630.4 C65.7,630.5 66.6,631.4 66.5,632.1 C66.3,632.8 64.7,633.6 63.9,634.5 C63.2,635.5 62.5,636.8 62.0,637.7 C61.4,638.7 61.0,640.6 60.7,640.3 C60.3,640.0 60.6,637.1 59.9,636.1 C59.2,635.2 57.3,635.1 56.7,634.5 C56.0,634.0 55.2,633.5 55.9,632.9Z" fill="#3f8fd2"/>
<path d="M44.6,657.0 C45.5,655.9 47.3,655.0 49.5,653.8 C51.6,652.6 54.8,651.0 57.5,649.8 C60.2,648.6 63.0,647.2 65.5,646.6 C68.0,646.0 71.7,645.3 72.4,646.1 C73.1,646.9 70.9,649.6 69.5,651.4 C68.1,653.2 65.9,655.1 63.9,657.0 C61.9,658.9 59.5,661.2 57.5,662.6 C55.5,664.1 53.6,665.5 51.9,665.7 C50.1,665.8 48.3,664.3 47.0,663.4 C45.8,662.5 44.6,661.3 44.2,660.2 C43.8,659.1 43.8,658.1 44.6,657.0Z" fill="#4bb062"/>
<path d="M55.9,653.0 C56.4,652.1 60.4,649.8 62.3,649.0 C64.2,648.2 66.8,647.6 67.1,648.2 C67.4,648.7 65.2,651.1 63.9,652.2 C62.6,653.3 60.4,654.5 59.1,654.6 C57.7,654.7 55.3,653.9 55.9,653.0Z" fill="#78c98a"/>
<path d="M95.2,663.4 C95.1,661.6 95.9,660.4 96.8,658.6 C97.8,656.9 99.4,654.7 100.8,653.0 C102.3,651.3 104.1,649.5 105.7,648.2 C107.3,646.8 108.3,645.4 110.5,645.0 C112.6,644.6 116.1,645.2 118.5,645.8 C120.9,646.3 122.8,647.5 124.9,648.2 C127.1,648.8 129.2,649.4 131.3,649.8 C133.5,650.2 136.3,649.5 137.8,650.4 C139.3,651.4 140.2,653.6 140.3,655.4 C140.5,657.2 139.5,659.5 138.6,661.0 C137.6,662.5 135.8,662.9 134.6,664.2 C133.4,665.6 132.7,668.7 131.3,669.2 C130.0,669.7 128.1,666.9 126.5,667.4 C124.9,668.0 123.6,670.8 121.7,672.3 C119.8,673.8 117.4,675.5 115.3,676.4 C113.2,677.4 111.0,678.2 108.9,678.0 C106.7,677.9 104.3,676.8 102.4,675.5 C100.6,674.1 98.8,671.9 97.6,669.9 C96.4,667.8 95.4,665.3 95.2,663.4Z" fill="#0b6b3b"/>
<path d="M128.9,649.1 C129.0,648.4 130.6,647.9 131.3,648.2 C132.1,648.5 133.4,650.4 133.3,651.1 C133.2,651.8 131.4,652.7 130.7,652.4 C130.0,652.0 128.8,649.8 128.9,649.1Z" fill="#3a6cc8"/>
</g>
<text class="d" x="109.20" y="612.00" font-size="4.95" text-anchor="middle" fill="#111" stroke="#111" dy="0.35em">Luminal</text>
<text class="d" x="84.80" y="623.30" font-size="4.95" text-anchor="middle" fill="#111" stroke="#111" dy="0.35em">LGR5+</text>
<text class="d" x="114.80" y="624.90" font-size="4.95" text-anchor="middle" fill="#111" stroke="#111" dy="0.35em">Proliferative</text>
<text class="d" x="84.30" y="631.60" font-size="4.95" text-anchor="middle" fill="#111" stroke="#111" dy="0.35em">EPCAM1+SOX9+</text>
<text class="d" x="120.10" y="635.00" font-size="4.95" text-anchor="middle" fill="#111" stroke="#111" dy="0.35em">Secretory</text>
<text class="d" x="55.40" y="636.90" font-size="4.95" text-anchor="middle" fill="#111" stroke="#111" dy="0.35em">EMT</text>
<text class="d" x="51.50" y="660.20" font-size="4.95" text-anchor="middle" fill="#111" stroke="#111" dy="0.35em">Ciliated</text>
<text class="d" x="110.50" y="665.00" font-size="4.95" text-anchor="middle" fill="#111" stroke="#111" dy="0.35em">Glandular</text>
<line x1="33.98" y1="687.74" x2="33.98" y2="665.73" stroke="#000" stroke-width="1.1"/>
<line x1="33.43" y1="687.19" x2="56.71" y2="687.19" stroke="#000" stroke-width="1.1"/>
<path d="M30.98,666.73 L33.98,661.13 L36.98,666.73Z"/>
<path d="M55.71,684.19 L61.31,687.19 L55.71,690.19Z"/>
<text class="l" x="24.78" y="674.42" font-size="6.3" text-anchor="middle" transform="rotate(-90 24.78 674.42)" dy="0.35em">UMAP_2</text>
<text class="l" x="48.28" y="699.96" font-size="6.6" text-anchor="middle" dy="0.35em">UMAP_1</text>
<g filter="url(#rg2)">
<path d="M222.1,616.1 C222.3,614.7 222.5,613.1 223.4,612.0 C224.2,611.0 225.8,610.1 227.4,610.0 C229.0,609.8 231.5,610.2 233.0,610.9 C234.5,611.7 235.8,613.1 236.5,614.5 C237.2,615.8 237.4,617.7 237.2,619.3 C237.0,620.9 235.9,622.5 235.4,624.1 C234.9,625.7 234.1,627.4 234.0,628.9 C233.8,630.4 234.8,632.0 234.6,632.9 C234.4,633.9 233.8,634.8 233.0,634.7 C232.2,634.6 230.7,633.3 229.8,632.1 C228.8,630.9 228.2,628.6 227.4,627.3 C226.6,626.0 225.8,625.3 225.0,624.1 C224.1,622.9 222.6,621.4 222.1,620.1 C221.6,618.7 221.9,617.4 222.1,616.1Z" fill="#c6687f"/>
<path d="M216.6,621.7 C216.9,621.0 218.2,620.2 219.3,620.1 C220.5,619.9 222.4,620.2 223.4,620.9 C224.3,621.5 225.3,623.2 225.1,624.1 C225.0,625.0 223.1,625.4 222.6,626.5 C222.0,627.6 222.3,629.8 221.9,630.5 C221.5,631.2 220.4,631.5 220.1,630.7 C219.9,629.9 220.9,626.8 220.5,625.7 C220.1,624.6 218.4,624.8 217.7,624.1 C217.1,623.4 216.3,622.3 216.6,621.7Z" fill="#c07088"/>
<path d="M231.4,634.5 C231.8,633.3 233.7,632.4 234.6,632.8 C235.5,633.2 236.3,635.3 237.0,636.9 C237.7,638.6 238.2,640.9 238.6,642.6 C239.0,644.2 240.0,645.6 239.6,646.6 C239.2,647.5 237.2,648.6 236.2,648.3 C235.2,648.1 234.5,646.3 233.8,645.0 C233.1,643.6 232.6,641.9 232.2,640.1 C231.8,638.4 231.0,635.8 231.4,634.5Z" fill="#b97a96"/>
<path d="M243.4,624.9 C244.1,625.4 246.6,626.8 247.4,628.1 C248.3,629.4 248.5,631.7 248.7,632.4" fill="none" stroke="#a8c8f0" stroke-width="0.9"/>
<path d="M225.0,661.8 C225.5,660.5 225.6,658.1 226.6,656.2 C227.5,654.3 229.1,651.9 230.6,650.6 C232.1,649.2 233.8,648.3 235.4,648.0 C237.0,647.7 238.7,648.4 240.2,649.0 C241.7,649.5 242.8,651.0 244.2,651.4 C245.7,651.8 247.7,650.7 249.1,651.2 C250.4,651.8 251.8,653.2 252.4,654.6 C253.0,656.0 253.2,657.8 252.7,659.4 C252.3,661.0 251.0,662.6 249.9,664.2 C248.7,665.8 247.3,667.4 245.8,669.1 C244.4,670.7 242.6,672.2 241.0,673.9 C239.4,675.5 237.8,677.9 236.2,678.8 C234.6,679.8 232.9,680.2 231.4,679.6 C229.9,679.1 228.6,677.2 227.4,675.5 C226.2,673.7 224.9,670.9 224.2,669.1 C223.5,667.2 223.1,665.4 223.2,664.2 C223.3,663.0 224.4,663.2 225.0,661.8Z" fill="url(#gl)"/>
<path d="M197.3,636.1 C197.7,635.5 198.9,634.6 200.1,634.0 C201.2,633.5 203.5,632.4 204.2,632.8 C205.0,633.1 204.9,635.0 204.6,636.1 C204.3,637.2 203.1,638.3 202.5,639.3 C201.9,640.4 201.3,642.2 200.9,642.2 C200.5,642.2 200.6,640.1 200.1,639.3 C199.6,638.6 198.4,638.3 198.0,637.7 C197.5,637.2 197.0,636.7 197.3,636.1Z" fill="#b07fa8"/>
<path d="M190.0,661.0 C190.3,660.0 190.9,658.2 192.0,657.0 C193.2,655.8 195.1,654.9 196.9,653.8 C198.6,652.6 200.7,650.9 202.5,650.1 C204.3,649.3 207.1,648.3 207.8,648.8 C208.4,649.3 207.2,651.6 206.5,653.0 C205.7,654.4 204.4,655.5 203.3,657.0 C202.2,658.5 201.3,660.2 200.1,661.8 C198.9,663.5 197.3,666.1 196.1,666.8 C194.9,667.5 193.8,666.4 192.8,665.8 C191.9,665.3 190.8,664.2 190.3,663.4 C189.8,662.6 189.7,662.1 190.0,661.0Z" fill="#a98ab8"/>
</g>
<path d="M222.1,616.1 C223.2,614.5 222.5,613.1 223.4,612.0 C224.2,611.0 225.8,610.1 227.4,610.0 C229.0,609.8 231.5,610.2 233.0,610.9 C234.5,611.7 235.8,613.1 236.5,614.5 C237.2,615.8 237.4,617.7 237.2,619.3 C237.0,620.9 235.9,622.5 235.4,624.1 C234.9,625.7 234.1,627.4 234.0,628.9 C233.8,630.4 233.8,630.6 234.6,632.9 C235.4,635.2 237.8,640.3 238.6,642.6 C239.4,644.8 240.0,645.6 239.6,646.6 C239.2,647.5 237.4,649.4 236.2,648.3 C235.0,647.3 233.3,642.8 232.2,640.1 C231.1,637.4 231.0,634.8 229.8,632.1 C228.6,629.4 226.6,624.3 225.0,624.1 C223.4,623.8 221.5,631.1 220.1,630.7 C218.8,630.3 216.3,624.1 216.6,621.7 C216.9,619.2 220.9,617.7 222.1,616.1Z" fill="#fff" filter="url(#spb)" opacity="0.6"/>
<path d="M225.0,661.8 C225.5,660.5 225.6,658.1 226.6,656.2 C227.5,654.3 229.1,651.9 230.6,650.6 C232.1,649.2 233.8,648.3 235.4,648.0 C237.0,647.7 238.7,648.4 240.2,649.0 C241.7,649.5 242.8,651.0 244.2,651.4 C245.7,651.8 247.7,650.7 249.1,651.2 C250.4,651.8 251.8,653.2 252.4,654.6 C253.0,656.0 253.2,657.8 252.7,659.4 C252.3,661.0 251.0,662.6 249.9,664.2 C248.7,665.8 247.3,667.4 245.8,669.1 C244.4,670.7 242.6,672.2 241.0,673.9 C239.4,675.5 237.8,677.9 236.2,678.8 C234.6,679.8 232.9,680.2 231.4,679.6 C229.9,679.1 228.6,677.2 227.4,675.5 C226.2,673.7 224.9,670.9 224.2,669.1 C223.5,667.2 223.1,665.4 223.2,664.2 C223.3,663.0 224.4,663.2 225.0,661.8Z" fill="#fff" filter="url(#spb)" opacity="0.6"/>
<path d="M226.6,659.4 C226.8,656.2 229.0,654.3 231.4,653.0 C233.8,651.7 238.3,650.9 241.0,651.4 C243.7,651.9 246.9,653.8 247.4,656.2 C248.0,658.6 246.1,662.9 244.2,665.8 C242.4,668.8 238.6,672.8 236.2,673.9 C233.8,674.9 231.4,674.7 229.8,672.3 C228.2,669.9 226.3,662.6 226.6,659.4Z" fill="#fff" filter="url(#spr)" opacity="0.6"/>
<path d="M190.0,661.0 C190.3,660.0 190.9,658.2 192.0,657.0 C193.2,655.8 195.1,654.9 196.9,653.8 C198.6,652.6 200.7,650.9 202.5,650.1 C204.3,649.3 207.1,648.3 207.8,648.8 C208.4,649.3 207.2,651.6 206.5,653.0 C205.7,654.4 204.4,655.5 203.3,657.0 C202.2,658.5 201.3,660.2 200.1,661.8 C198.9,663.5 197.3,666.1 196.1,666.8 C194.9,667.5 193.8,666.4 192.8,665.8 C191.9,665.3 190.8,664.2 190.3,663.4 C189.8,662.6 189.7,662.1 190.0,661.0Z" fill="#fff" filter="url(#spb)" opacity="0.6"/>
<path d="M197.3,636.1 C197.7,635.5 198.9,634.6 200.1,634.0 C201.2,633.5 203.5,632.4 204.2,632.8 C205.0,633.1 204.9,635.0 204.6,636.1 C204.3,637.2 203.1,638.3 202.5,639.3 C201.9,640.4 201.3,642.2 200.9,642.2 C200.5,642.2 200.6,640.1 200.1,639.3 C199.6,638.6 198.4,638.3 198.0,637.7 C197.5,637.2 197.0,636.7 197.3,636.1Z" fill="#fff" filter="url(#spb)" opacity="0.6"/>
<text class="d" x="222.00" y="597.00" font-size="6.2" text-anchor="middle" font-weight="bold" dy="0.35em">IFNGR1</text>
<line x1="186.30" y1="603.40" x2="186.30" y2="687.50" stroke="#222" stroke-width="0.6"/>
<line x1="186.00" y1="687.20" x2="257.90" y2="687.20" stroke="#222" stroke-width="0.6"/>
<line x1="185.00" y1="618.00" x2="186.30" y2="618.00" stroke="#222" stroke-width="0.5"/>
<text class="d" x="184.20" y="618.00" font-size="4.8" text-anchor="end" fill="#222" stroke="#222" dy="0.35em">10</text>
<line x1="185.00" y1="635.30" x2="186.30" y2="635.30" stroke="#222" stroke-width="0.5"/>
<text class="d" x="184.20" y="635.30" font-size="4.8" text-anchor="end" fill="#222" stroke="#222" dy="0.35em">5</text>
<line x1="185.00" y1="652.40" x2="186.30" y2="652.40" stroke="#222" stroke-width="0.5"/>
<text class="d" x="184.20" y="652.40" font-size="4.8" text-anchor="end" fill="#222" stroke="#222" dy="0.35em">0</text>
<line x1="185.00" y1="669.80" x2="186.30" y2="669.80" stroke="#222" stroke-width="0.5"/>
<text class="d" x="184.20" y="669.80" font-size="4.8" text-anchor="end" fill="#222" stroke="#222" dy="0.35em">-5</text>
<line x1="185.00" y1="687.00" x2="186.30" y2="687.00" stroke="#222" stroke-width="0.5"/>
<text class="d" x="184.20" y="687.00" font-size="4.8" text-anchor="end" fill="#222" stroke="#222" dy="0.35em">-10</text>
<line x1="186.30" y1="687.20" x2="186.30" y2="688.50" stroke="#222" stroke-width="0.5"/>
<text class="d" x="186.30" y="691.90" font-size="4.8" text-anchor="middle" fill="#222" stroke="#222" dy="0.35em">-15</text>
<line x1="201.10" y1="687.20" x2="201.10" y2="688.50" stroke="#222" stroke-width="0.5"/>
<text class="d" x="201.10" y="691.90" font-size="4.8" text-anchor="middle" fill="#222" stroke="#222" dy="0.35em">-10</text>
<line x1="216.00" y1="687.20" x2="216.00" y2="688.50" stroke="#222" stroke-width="0.5"/>
<text class="d" x="216.00" y="691.90" font-size="4.8" text-anchor="middle" fill="#222" stroke="#222" dy="0.35em">-5</text>
<line x1="230.80" y1="687.20" x2="230.80" y2="688.50" stroke="#222" stroke-width="0.5"/>
<text class="d" x="230.80" y="691.90" font-size="4.8" text-anchor="middle" fill="#222" stroke="#222" dy="0.35em">0</text>
<line x1="245.60" y1="687.20" x2="245.60" y2="688.50" stroke="#222" stroke-width="0.5"/>
<text class="d" x="245.60" y="691.90" font-size="4.8" text-anchor="middle" fill="#222" stroke="#222" dy="0.35em">5</text>
<text class="d" x="222.00" y="697.80" font-size="5.45" text-anchor="middle" fill="#222" stroke="#222" dy="0.35em">UMAP_1</text>
<text class="d" x="171.50" y="645.00" font-size="5.45" text-anchor="middle" fill="#222" stroke="#222" transform="rotate(-90 171.50 645.00)" dy="0.35em">UMAP_2</text>
<rect x="263.50" y="631.50" width="5.80" height="30.10" fill="url(#fb)" stroke="none" stroke-width="0.5"/>
<text class="d" x="272.20" y="636.10" font-size="4.8" fill="#222" stroke="#222" dy="0.35em">3</text>
<text class="d" x="272.20" y="645.00" font-size="4.8" fill="#222" stroke="#222" dy="0.35em">2</text>
<text class="d" x="272.20" y="653.70" font-size="4.8" fill="#222" stroke="#222" dy="0.35em">1</text>
<text class="d" x="272.20" y="662.40" font-size="4.8" fill="#222" stroke="#222" dy="0.35em">0</text>
<text class="l" x="375.58" y="607.23" font-size="8.1" text-anchor="middle" font-weight="bold" dy="0.35em">IFNGR1 (Luminal)</text>
<line x1="335.47" y1="615.15" x2="335.47" y2="672.88" stroke="#111" stroke-width="0.7"/>
<line x1="335.22" y1="672.63" x2="416.46" y2="672.63" stroke="#111" stroke-width="0.7"/>
<line x1="333.69" y1="624.09" x2="335.47" y2="624.09" stroke="#111" stroke-width="0.6"/>
<text class="l" x="332.41" y="624.09" font-size="6.0" text-anchor="end" dy="0.35em">3</text>
<line x1="333.69" y1="639.16" x2="335.47" y2="639.16" stroke="#111" stroke-width="0.6"/>
<text class="l" x="332.41" y="639.16" font-size="6.0" text-anchor="end" dy="0.35em">2</text>
<line x1="333.69" y1="654.23" x2="335.47" y2="654.23" stroke="#111" stroke-width="0.6"/>
<text class="l" x="332.41" y="654.23" font-size="6.0" text-anchor="end" dy="0.35em">1</text>
<line x1="333.69" y1="669.56" x2="335.47" y2="669.56" stroke="#111" stroke-width="0.6"/>
<text class="l" x="332.41" y="669.56" font-size="6.0" text-anchor="end" dy="0.35em">0</text>
<text class="l" x="322.70" y="643.76" font-size="7.3" text-anchor="middle" transform="rotate(-90 322.70 643.76)" dy="0.35em">Expression Level</text>
<text class="l" x="375.71" y="621.28" font-size="10.6" text-anchor="middle" dy="0.35em">****</text>
<g transform="translate(290,585) scale(0.25547)" stroke="#222" stroke-width="2.2" stroke-linejoin="round">
<path fill="#de5fb6" d="M263,125 L263,152 C258,172 238,200 227,240 C217,275 207,292 214,304 C221,318 206,325 195,331 L331,331 C320,325 305,318 312,304 C319,292 309,275 299,240 C288,200 268,172 263,152 Z"/>
<path fill="#fcb1b6" d="M407,138 C402,160 385,185 370,210 C355,235 352,250 362,270 C372,290 386,298 381,310 C376,322 351,326 342,331 L472,331 C463,326 438,322 433,310 C428,298 442,290 452,270 C462,250 459,235 444,210 C429,185 412,160 407,138 Z"/>
</g>
<line x1="357.19" y1="672.63" x2="357.19" y2="674.42" stroke="#111" stroke-width="0.6"/>
<text class="l" x="359.23" y="676.97" font-size="6.0" text-anchor="end" transform="rotate(-45 359.23 676.97)" dy="0.35em">LH7</text>
<line x1="393.98" y1="672.63" x2="393.98" y2="674.42" stroke="#111" stroke-width="0.6"/>
<text class="l" x="396.02" y="676.97" font-size="6.0" text-anchor="end" transform="rotate(-45 396.02 676.97)" dy="0.35em">RIFClass2</text>
</svg>
</body></html>
